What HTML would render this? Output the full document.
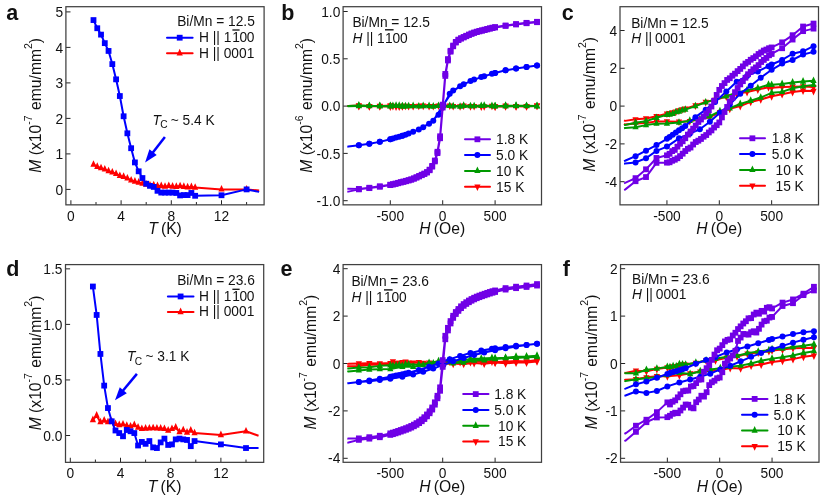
<!DOCTYPE html>
<html><head><meta charset="utf-8"><title>Magnetisation figure</title>
<style>
html,body{margin:0;padding:0;background:#fff;}
body{width:830px;height:501px;overflow:hidden;font-family:"Liberation Sans", sans-serif;}
svg{display:block;will-change:transform;filter:grayscale(0);}
svg text{font-family:"Liberation Sans", sans-serif;fill:#111;}
</style></head><body>
<svg width="830" height="501" viewBox="0 0 830 501">
<rect width="830" height="501" fill="#fff"/>
<path d="M70.9 204.85V200.25M121.1 204.85V200.25M171.3 204.85V200.25M221.5 204.85V200.25M96 204.85V202.05M146.2 204.85V202.05M196.4 204.85V202.05M246.6 204.85V202.05M65.9 189.4H70.5M65.9 153.9H70.5M65.9 118.4H70.5M65.9 82.9H70.5M65.9 47.4H70.5M65.9 11.9H70.5" stroke="#222" stroke-width="1" fill="none"/>
<rect x="65.9" y="6.7" width="198.2" height="198.15" fill="none" stroke="#404040" stroke-width="1.25"/>
<text x="70.9" y="220.95" font-size="13.75" text-anchor="middle">0</text>
<text x="121.1" y="220.95" font-size="13.75" text-anchor="middle">4</text>
<text x="171.3" y="220.95" font-size="13.75" text-anchor="middle">8</text>
<text x="221.5" y="220.95" font-size="13.75" text-anchor="middle">12</text>
<text x="63.1" y="194.5" font-size="13.75" text-anchor="end">0</text>
<text x="63.1" y="159" font-size="13.75" text-anchor="end">1</text>
<text x="63.1" y="123.5" font-size="13.75" text-anchor="end">2</text>
<text x="63.1" y="88" font-size="13.75" text-anchor="end">3</text>
<text x="63.1" y="52.5" font-size="13.75" text-anchor="end">4</text>
<text x="63.1" y="17" font-size="13.75" text-anchor="end">5</text>
<polyline points="93.49,164.6 97.26,166.72 101.02,168.09 104.79,169.4 108.55,171.16 112.32,172.36 116.08,173.78 119.85,175.88 123.61,176.69 127.38,178.4 131.14,180.35 134.91,181.46 138.67,182.51 142.44,183.62 146.2,184.5 149.97,185.32 153.73,185.22 157.5,185.81 161.26,185.95 165.03,186.64 168.79,185.91 172.56,186.52 176.32,186.73 180.09,186.1 183.85,186.75 187.62,187.21 191.38,186.97 195.15,187.56 221.5,189.4 246.6,189.4 259.15,190.47" fill="none" stroke="#ff0000" stroke-width="2" stroke-linejoin="round" stroke-linecap="butt"/>
<g><polygon points="93.49,160.2 90.39,166.8 96.59,166.8" fill="#ff0000"/><polygon points="97.26,162.32 94.16,168.92 100.36,168.92" fill="#ff0000"/><polygon points="101.02,163.69 97.92,170.29 104.12,170.29" fill="#ff0000"/><polygon points="104.79,165 101.69,171.6 107.89,171.6" fill="#ff0000"/><polygon points="108.55,166.76 105.45,173.36 111.65,173.36" fill="#ff0000"/><polygon points="112.32,167.96 109.22,174.56 115.42,174.56" fill="#ff0000"/><polygon points="116.08,169.38 112.98,175.98 119.18,175.98" fill="#ff0000"/><polygon points="119.85,171.48 116.75,178.08 122.95,178.08" fill="#ff0000"/><polygon points="123.61,172.29 120.51,178.89 126.71,178.89" fill="#ff0000"/><polygon points="127.38,174 124.28,180.6 130.47,180.6" fill="#ff0000"/><polygon points="131.14,175.95 128.04,182.55 134.24,182.55" fill="#ff0000"/><polygon points="134.91,177.06 131.81,183.66 138.01,183.66" fill="#ff0000"/><polygon points="138.67,178.11 135.57,184.71 141.77,184.71" fill="#ff0000"/><polygon points="142.44,179.22 139.34,185.82 145.53,185.82" fill="#ff0000"/><polygon points="146.2,180.1 143.1,186.7 149.3,186.7" fill="#ff0000"/><polygon points="149.97,180.92 146.87,187.52 153.07,187.52" fill="#ff0000"/><polygon points="153.73,180.82 150.63,187.42 156.83,187.42" fill="#ff0000"/><polygon points="157.5,181.41 154.4,188.01 160.59,188.01" fill="#ff0000"/><polygon points="161.26,181.55 158.16,188.15 164.36,188.15" fill="#ff0000"/><polygon points="165.03,182.24 161.93,188.84 168.13,188.84" fill="#ff0000"/><polygon points="168.79,181.51 165.69,188.11 171.89,188.11" fill="#ff0000"/><polygon points="172.56,182.12 169.46,188.72 175.66,188.72" fill="#ff0000"/><polygon points="176.32,182.33 173.22,188.93 179.42,188.93" fill="#ff0000"/><polygon points="180.09,181.7 176.99,188.3 183.19,188.3" fill="#ff0000"/><polygon points="183.85,182.35 180.75,188.95 186.95,188.95" fill="#ff0000"/><polygon points="187.62,182.81 184.52,189.41 190.72,189.41" fill="#ff0000"/><polygon points="191.38,182.57 188.28,189.17 194.48,189.17" fill="#ff0000"/><polygon points="195.15,183.16 192.05,189.76 198.25,189.76" fill="#ff0000"/><polygon points="221.5,185 218.4,191.6 224.6,191.6" fill="#ff0000"/><polygon points="246.6,185 243.5,191.6 249.7,191.6" fill="#ff0000"/></g>
<polyline points="93.49,20.07 97.26,28.23 101.02,34.62 104.79,43.14 108.55,50.95 112.32,64.09 116.08,79.35 119.85,96.04 123.61,116.27 127.38,133.31 131.14,148.22 134.91,162.42 138.67,171.3 142.44,178.04 146.2,183.72 149.97,185.85 153.73,186.91 157.5,190.82 161.26,192.59 165.03,192.59 168.79,192.59 172.56,192.59 176.32,192.95 180.09,195.44 183.85,195.08 187.62,195.08 191.38,192.95 195.15,195.79 221.5,195.26 246.6,189.4 259.15,191.89" fill="none" stroke="#0000ff" stroke-width="2" stroke-linejoin="round" stroke-linecap="butt"/>
<g><rect x="90.59" y="17.17" width="5.8" height="5.8" fill="#0000ff"/><rect x="94.36" y="25.33" width="5.8" height="5.8" fill="#0000ff"/><rect x="98.12" y="31.72" width="5.8" height="5.8" fill="#0000ff"/><rect x="101.89" y="40.24" width="5.8" height="5.8" fill="#0000ff"/><rect x="105.65" y="48.05" width="5.8" height="5.8" fill="#0000ff"/><rect x="109.42" y="61.19" width="5.8" height="5.8" fill="#0000ff"/><rect x="113.18" y="76.45" width="5.8" height="5.8" fill="#0000ff"/><rect x="116.95" y="93.14" width="5.8" height="5.8" fill="#0000ff"/><rect x="120.71" y="113.37" width="5.8" height="5.8" fill="#0000ff"/><rect x="124.47" y="130.41" width="5.8" height="5.8" fill="#0000ff"/><rect x="128.24" y="145.32" width="5.8" height="5.8" fill="#0000ff"/><rect x="132.01" y="159.52" width="5.8" height="5.8" fill="#0000ff"/><rect x="135.77" y="168.4" width="5.8" height="5.8" fill="#0000ff"/><rect x="139.53" y="175.14" width="5.8" height="5.8" fill="#0000ff"/><rect x="143.3" y="180.82" width="5.8" height="5.8" fill="#0000ff"/><rect x="147.07" y="182.95" width="5.8" height="5.8" fill="#0000ff"/><rect x="150.83" y="184.01" width="5.8" height="5.8" fill="#0000ff"/><rect x="154.59" y="187.92" width="5.8" height="5.8" fill="#0000ff"/><rect x="158.36" y="189.69" width="5.8" height="5.8" fill="#0000ff"/><rect x="162.13" y="189.69" width="5.8" height="5.8" fill="#0000ff"/><rect x="165.89" y="189.69" width="5.8" height="5.8" fill="#0000ff"/><rect x="169.66" y="189.69" width="5.8" height="5.8" fill="#0000ff"/><rect x="173.42" y="190.05" width="5.8" height="5.8" fill="#0000ff"/><rect x="177.19" y="192.53" width="5.8" height="5.8" fill="#0000ff"/><rect x="180.95" y="192.18" width="5.8" height="5.8" fill="#0000ff"/><rect x="184.72" y="192.18" width="5.8" height="5.8" fill="#0000ff"/><rect x="188.48" y="190.05" width="5.8" height="5.8" fill="#0000ff"/><rect x="192.25" y="192.89" width="5.8" height="5.8" fill="#0000ff"/><rect x="218.6" y="192.36" width="5.8" height="5.8" fill="#0000ff"/><rect x="243.7" y="186.5" width="5.8" height="5.8" fill="#0000ff"/></g>
<text x="6.2" y="19.8" font-size="21.5" text-anchor="start" font-weight="bold">a</text>
<text transform="translate(41.2,105.27) rotate(-90)" font-size="15.7" text-anchor="middle"><tspan font-style="italic">M</tspan> (x10<tspan font-size="10.5" dy="-9.2">-7</tspan><tspan dy="9.2" dx="1"> emu/mm</tspan><tspan font-size="10.5" dy="-9.2">2</tspan><tspan dy="9.2">)</tspan></text>
<text x="165" y="234.15" font-size="15.7" text-anchor="middle"><tspan font-style="italic">T</tspan><tspan dx="-1.2"> (K)</tspan></text>
<text x="254.8" y="26.4" font-size="13.75" text-anchor="end">Bi/Mn = 12.5</text>
<text x="199" y="42.1" font-size="13.75" text-anchor="start">H || 1<tspan dx="2">1</tspan><tspan dx="-0.5">0</tspan><tspan dx="-0.5">0</tspan></text>
<text x="199" y="57.6" font-size="13.75" text-anchor="start">H || 0001</text>
<line x1="232.4" y1="30" x2="239.6" y2="30" stroke="#111" stroke-width="1.3"/>
<line x1="167" y1="37.7" x2="192.6" y2="37.7" stroke="#0000ff" stroke-width="2" stroke-linecap="round"/>
<rect x="176.8" y="34.8" width="5.8" height="5.8" fill="#0000ff"/>
<line x1="167" y1="53.2" x2="192.6" y2="53.2" stroke="#ff0000" stroke-width="2" stroke-linecap="round"/>
<polygon points="179.7,48.8 176.6,55.4 182.8,55.4" fill="#ff0000"/>
<text x="152.5" y="124.7" font-size="13.75" text-anchor="start"><tspan font-style="italic">T</tspan><tspan font-size="10.2" dy="3.6" dx="-0.7">C</tspan><tspan dy="-3.6" dx="-0.6"> ~ 5.4 K</tspan></text>
<line x1="164.9" y1="136.9" x2="152.46" y2="152.92" stroke="#0000ff" stroke-width="2.5"/>
<polygon points="145.1,162.4 149.44,149.31 156.71,154.95" fill="#0000ff"/>
<path d="M70.3 462.35V457.75M120.5 462.35V457.75M170.7 462.35V457.75M220.9 462.35V457.75M95.4 462.35V459.55M145.6 462.35V459.55M195.8 462.35V459.55M246 462.35V459.55M65.5 435.5H70.1M65.5 379.95H70.1M65.5 324.4H70.1M65.5 268.85H70.1" stroke="#222" stroke-width="1" fill="none"/>
<rect x="65.5" y="264.6" width="198.2" height="197.75" fill="none" stroke="#404040" stroke-width="1.25"/>
<text x="70.3" y="478.45" font-size="13.75" text-anchor="middle">0</text>
<text x="120.5" y="478.45" font-size="13.75" text-anchor="middle">4</text>
<text x="170.7" y="478.45" font-size="13.75" text-anchor="middle">8</text>
<text x="220.9" y="478.45" font-size="13.75" text-anchor="middle">12</text>
<text x="62.4" y="440.6" font-size="13.75" text-anchor="end">0.0</text>
<text x="62.4" y="385.05" font-size="13.75" text-anchor="end">0.5</text>
<text x="62.4" y="329.5" font-size="13.75" text-anchor="end">1.0</text>
<text x="62.4" y="273.95" font-size="13.75" text-anchor="end">1.5</text>
<polyline points="92.89,419.95 96.66,415.5 100.42,422.17 104.19,420.5 107.95,422.17 111.72,421.28 115.48,423.83 119.25,424.95 123.01,424.39 126.78,425.72 130.54,426.28 134.31,424.95 138.07,427.5 141.84,428.83 145.6,428.5 149.37,428.39 153.13,428.17 156.9,428.39 160.66,428.5 164.43,428.83 168.19,430.5 171.96,428.83 175.72,427.5 179.49,432.06 183.25,430.06 187.02,432.5 190.78,430.5 194.55,433.06 220.9,434.94 246,431.28 258.55,435.72" fill="none" stroke="#ff0000" stroke-width="2" stroke-linejoin="round" stroke-linecap="butt"/>
<g><polygon points="92.89,415.55 89.79,422.15 95.99,422.15" fill="#ff0000"/><polygon points="96.66,411.1 93.56,417.7 99.75,417.7" fill="#ff0000"/><polygon points="100.42,417.77 97.32,424.37 103.52,424.37" fill="#ff0000"/><polygon points="104.19,416.1 101.09,422.7 107.28,422.7" fill="#ff0000"/><polygon points="107.95,417.77 104.85,424.37 111.05,424.37" fill="#ff0000"/><polygon points="111.72,416.88 108.62,423.48 114.81,423.48" fill="#ff0000"/><polygon points="115.48,419.43 112.38,426.03 118.58,426.03" fill="#ff0000"/><polygon points="119.25,420.55 116.15,427.15 122.34,427.15" fill="#ff0000"/><polygon points="123.01,419.99 119.91,426.59 126.11,426.59" fill="#ff0000"/><polygon points="126.78,421.32 123.68,427.92 129.88,427.92" fill="#ff0000"/><polygon points="130.54,421.88 127.44,428.48 133.64,428.48" fill="#ff0000"/><polygon points="134.31,420.55 131.21,427.15 137.41,427.15" fill="#ff0000"/><polygon points="138.07,423.1 134.97,429.7 141.17,429.7" fill="#ff0000"/><polygon points="141.84,424.43 138.74,431.03 144.94,431.03" fill="#ff0000"/><polygon points="145.6,424.1 142.5,430.7 148.7,430.7" fill="#ff0000"/><polygon points="149.37,423.99 146.27,430.59 152.47,430.59" fill="#ff0000"/><polygon points="153.13,423.77 150.03,430.37 156.23,430.37" fill="#ff0000"/><polygon points="156.9,423.99 153.8,430.59 160,430.59" fill="#ff0000"/><polygon points="160.66,424.1 157.56,430.7 163.76,430.7" fill="#ff0000"/><polygon points="164.43,424.43 161.33,431.03 167.53,431.03" fill="#ff0000"/><polygon points="168.19,426.1 165.09,432.7 171.29,432.7" fill="#ff0000"/><polygon points="171.96,424.43 168.86,431.03 175.06,431.03" fill="#ff0000"/><polygon points="175.72,423.1 172.62,429.7 178.82,429.7" fill="#ff0000"/><polygon points="179.49,427.66 176.39,434.26 182.59,434.26" fill="#ff0000"/><polygon points="183.25,425.66 180.15,432.26 186.35,432.26" fill="#ff0000"/><polygon points="187.02,428.1 183.92,434.7 190.12,434.7" fill="#ff0000"/><polygon points="190.78,426.1 187.68,432.7 193.88,432.7" fill="#ff0000"/><polygon points="194.55,428.66 191.45,435.26 197.65,435.26" fill="#ff0000"/><polygon points="220.9,430.54 217.8,437.14 224,437.14" fill="#ff0000"/><polygon points="246,426.88 242.9,433.48 249.1,433.48" fill="#ff0000"/></g>
<polyline points="92.89,286.51 96.66,314.96 100.42,353.95 104.19,385.62 107.95,408.06 111.72,421.28 115.48,430.5 119.25,433.06 123.01,436.28 126.78,429.94 130.54,431.28 134.31,433.06 138.07,445.5 141.84,441.94 145.6,443.83 149.37,441.06 153.13,447.39 156.9,448.05 160.66,442.39 164.43,438.61 168.19,444.94 171.96,444.39 175.72,439.39 179.49,438.61 183.25,439.39 187.02,439.94 190.78,446.17 194.55,441.06 220.9,444.39 246,448.05 258.55,448.05" fill="none" stroke="#0000ff" stroke-width="2" stroke-linejoin="round" stroke-linecap="butt"/>
<g><rect x="89.99" y="283.61" width="5.8" height="5.8" fill="#0000ff"/><rect x="93.75" y="312.06" width="5.8" height="5.8" fill="#0000ff"/><rect x="97.52" y="351.05" width="5.8" height="5.8" fill="#0000ff"/><rect x="101.28" y="382.72" width="5.8" height="5.8" fill="#0000ff"/><rect x="105.05" y="405.16" width="5.8" height="5.8" fill="#0000ff"/><rect x="108.81" y="418.38" width="5.8" height="5.8" fill="#0000ff"/><rect x="112.58" y="427.6" width="5.8" height="5.8" fill="#0000ff"/><rect x="116.34" y="430.16" width="5.8" height="5.8" fill="#0000ff"/><rect x="120.11" y="433.38" width="5.8" height="5.8" fill="#0000ff"/><rect x="123.88" y="427.05" width="5.8" height="5.8" fill="#0000ff"/><rect x="127.64" y="428.38" width="5.8" height="5.8" fill="#0000ff"/><rect x="131.41" y="430.16" width="5.8" height="5.8" fill="#0000ff"/><rect x="135.17" y="442.6" width="5.8" height="5.8" fill="#0000ff"/><rect x="138.94" y="439.04" width="5.8" height="5.8" fill="#0000ff"/><rect x="142.7" y="440.93" width="5.8" height="5.8" fill="#0000ff"/><rect x="146.47" y="438.16" width="5.8" height="5.8" fill="#0000ff"/><rect x="150.23" y="444.49" width="5.8" height="5.8" fill="#0000ff"/><rect x="154" y="445.15" width="5.8" height="5.8" fill="#0000ff"/><rect x="157.76" y="439.49" width="5.8" height="5.8" fill="#0000ff"/><rect x="161.53" y="435.71" width="5.8" height="5.8" fill="#0000ff"/><rect x="165.29" y="442.04" width="5.8" height="5.8" fill="#0000ff"/><rect x="169.06" y="441.49" width="5.8" height="5.8" fill="#0000ff"/><rect x="172.82" y="436.49" width="5.8" height="5.8" fill="#0000ff"/><rect x="176.59" y="435.71" width="5.8" height="5.8" fill="#0000ff"/><rect x="180.35" y="436.49" width="5.8" height="5.8" fill="#0000ff"/><rect x="184.12" y="437.04" width="5.8" height="5.8" fill="#0000ff"/><rect x="187.88" y="443.27" width="5.8" height="5.8" fill="#0000ff"/><rect x="191.65" y="438.16" width="5.8" height="5.8" fill="#0000ff"/><rect x="218" y="441.49" width="5.8" height="5.8" fill="#0000ff"/><rect x="243.1" y="445.15" width="5.8" height="5.8" fill="#0000ff"/></g>
<text x="6.2" y="275.7" font-size="21.5" text-anchor="start" font-weight="bold">d</text>
<text transform="translate(40.8,362.98) rotate(-90)" font-size="15.7" text-anchor="middle"><tspan font-style="italic">M</tspan> (x10<tspan font-size="10.5" dy="-9.2">-7</tspan><tspan dy="9.2" dx="1"> emu/mm</tspan><tspan font-size="10.5" dy="-9.2">2</tspan><tspan dy="9.2">)</tspan></text>
<text x="164.6" y="491.65" font-size="15.7" text-anchor="middle"><tspan font-style="italic">T</tspan><tspan dx="-1.2"> (K)</tspan></text>
<text x="254.8" y="284.9" font-size="13.75" text-anchor="end">Bi/Mn = 23.6</text>
<text x="199" y="300.7" font-size="13.75" text-anchor="start">H || 1<tspan dx="2">1</tspan><tspan dx="-0.5">0</tspan><tspan dx="-0.5">0</tspan></text>
<text x="199" y="315.5" font-size="13.75" text-anchor="start">H || 0001</text>
<line x1="232.4" y1="289.3" x2="239.6" y2="289.3" stroke="#111" stroke-width="1.3"/>
<line x1="167.9" y1="296.45" x2="193.5" y2="296.45" stroke="#0000ff" stroke-width="2" stroke-linecap="round"/>
<rect x="177.7" y="293.55" width="5.8" height="5.8" fill="#0000ff"/>
<line x1="167.9" y1="311.95" x2="193.5" y2="311.95" stroke="#ff0000" stroke-width="2" stroke-linecap="round"/>
<polygon points="180.6,307.55 177.5,314.15 183.7,314.15" fill="#ff0000"/>
<text x="127.1" y="361.2" font-size="13.75" text-anchor="start"><tspan font-style="italic">T</tspan><tspan font-size="10.2" dy="3.6" dx="-0.7">C</tspan><tspan dy="-3.6" dx="-0.6"> ~ 3.1 K</tspan></text>
<line x1="136.9" y1="373.9" x2="122.66" y2="391.06" stroke="#0000ff" stroke-width="2.5"/>
<polygon points="115,400.3 119.76,387.36 126.84,393.23" fill="#0000ff"/>
<path d="M390.3 204.85V200.25M442.7 204.85V200.25M495.1 204.85V200.25M343.1 200.7H347.7M343.1 153.4H347.7M343.1 106.1H347.7M343.1 58.8H347.7M343.1 11.5H347.7" stroke="#222" stroke-width="1" fill="none"/>
<rect x="343.1" y="6.7" width="198.4" height="198.15" fill="none" stroke="#404040" stroke-width="1.25"/>
<text x="390.3" y="220.95" font-size="13.75" text-anchor="middle">-500</text>
<text x="442.7" y="220.95" font-size="13.75" text-anchor="middle">0</text>
<text x="495.1" y="220.95" font-size="13.75" text-anchor="middle">500</text>
<text x="340.3" y="205.8" font-size="13.75" text-anchor="end">-1.0</text>
<text x="340.3" y="158.5" font-size="13.75" text-anchor="end">-0.5</text>
<text x="340.3" y="111.2" font-size="13.75" text-anchor="end">0.0</text>
<text x="340.3" y="63.9" font-size="13.75" text-anchor="end">0.5</text>
<text x="340.3" y="16.6" font-size="13.75" text-anchor="end">1.0</text>
<polyline points="347.33,106.1 348.38,106.07 358.86,106.03 369.34,106.14 379.82,106.19 390.3,106.51 402.35,105.96 413.15,106.13 423.21,105.76 433.27,106.2 443.33,106.64 453.18,106.13 463.66,105.62 474.14,106.21 484.2,106.35 495.1,106.44 505.58,106.4 516.06,106.19 526.54,106.43 537.02,105.67 537.02,105.8 526.54,106.22 516.06,106.31 505.58,105.8 495.1,106.57 491.96,105.95 481.27,106.69 470.47,106.29 460.1,106.44 449.72,105.69 438.51,105.6 429.08,106.19 418.81,105.86 408.64,106.15 405.5,105.94 402.35,106.31 399.21,106.58 396.06,106.61 392.92,105.99 390.3,105.46 379.82,106.02 369.34,106.25 358.86,105.56 348.38,106.03 347.33,106.1" fill="none" stroke="#ff0000" stroke-width="2" stroke-linejoin="round" stroke-linecap="butt"/>
<g><polygon points="358.86,110.43 355.76,103.83 361.96,103.83" fill="#ff0000"/><polygon points="369.34,110.54 366.24,103.94 372.44,103.94" fill="#ff0000"/><polygon points="379.82,110.59 376.72,103.99 382.92,103.99" fill="#ff0000"/><polygon points="390.3,110.91 387.2,104.31 393.4,104.31" fill="#ff0000"/><polygon points="402.35,110.36 399.25,103.76 405.45,103.76" fill="#ff0000"/><polygon points="413.15,110.53 410.05,103.93 416.25,103.93" fill="#ff0000"/><polygon points="423.21,110.16 420.11,103.56 426.31,103.56" fill="#ff0000"/><polygon points="433.27,110.6 430.17,104 436.37,104" fill="#ff0000"/><polygon points="443.33,111.04 440.23,104.44 446.43,104.44" fill="#ff0000"/><polygon points="453.18,110.53 450.08,103.93 456.28,103.93" fill="#ff0000"/><polygon points="463.66,110.02 460.56,103.42 466.76,103.42" fill="#ff0000"/><polygon points="474.14,110.61 471.04,104.01 477.24,104.01" fill="#ff0000"/><polygon points="484.2,110.75 481.1,104.15 487.3,104.15" fill="#ff0000"/><polygon points="495.1,110.84 492,104.24 498.2,104.24" fill="#ff0000"/><polygon points="505.58,110.8 502.48,104.2 508.68,104.2" fill="#ff0000"/><polygon points="516.06,110.59 512.96,103.99 519.16,103.99" fill="#ff0000"/><polygon points="526.54,110.83 523.44,104.23 529.64,104.23" fill="#ff0000"/><polygon points="537.02,110.07 533.92,103.47 540.12,103.47" fill="#ff0000"/><polygon points="537.02,110.2 533.92,103.6 540.12,103.6" fill="#ff0000"/><polygon points="526.54,110.62 523.44,104.02 529.64,104.02" fill="#ff0000"/><polygon points="516.06,110.71 512.96,104.11 519.16,104.11" fill="#ff0000"/><polygon points="505.58,110.2 502.48,103.6 508.68,103.6" fill="#ff0000"/><polygon points="495.1,110.97 492,104.37 498.2,104.37" fill="#ff0000"/><polygon points="491.96,110.35 488.86,103.75 495.06,103.75" fill="#ff0000"/><polygon points="481.27,111.09 478.17,104.49 484.37,104.49" fill="#ff0000"/><polygon points="470.47,110.69 467.37,104.09 473.57,104.09" fill="#ff0000"/><polygon points="460.1,110.84 457,104.24 463.2,104.24" fill="#ff0000"/><polygon points="449.72,110.09 446.62,103.49 452.82,103.49" fill="#ff0000"/><polygon points="438.51,110 435.41,103.4 441.61,103.4" fill="#ff0000"/><polygon points="429.08,110.59 425.98,103.99 432.18,103.99" fill="#ff0000"/><polygon points="418.81,110.26 415.71,103.66 421.91,103.66" fill="#ff0000"/><polygon points="408.64,110.55 405.54,103.95 411.74,103.95" fill="#ff0000"/><polygon points="405.5,110.34 402.4,103.74 408.6,103.74" fill="#ff0000"/><polygon points="402.35,110.71 399.25,104.11 405.45,104.11" fill="#ff0000"/><polygon points="399.21,110.98 396.11,104.38 402.31,104.38" fill="#ff0000"/><polygon points="396.06,111.01 392.96,104.41 399.16,104.41" fill="#ff0000"/><polygon points="392.92,110.39 389.82,103.79 396.02,103.79" fill="#ff0000"/><polygon points="390.3,109.86 387.2,103.26 393.4,103.26" fill="#ff0000"/><polygon points="379.82,110.42 376.72,103.82 382.92,103.82" fill="#ff0000"/><polygon points="369.34,110.65 366.24,104.05 372.44,104.05" fill="#ff0000"/><polygon points="358.86,109.96 355.76,103.36 361.96,103.36" fill="#ff0000"/></g>
<polyline points="347.33,106.1 348.38,106.12 358.86,105.46 369.34,105.85 379.82,106.2 390.3,106.23 402.35,106.35 413.15,105.99 423.21,105.99 433.27,106.51 443.33,105.96 453.18,106.26 463.66,105.7 474.14,106.06 484.2,105.61 495.1,106.23 505.58,106.18 516.06,106.01 526.54,105.8 537.02,105.94 537.02,106.18 526.54,106.07 516.06,105.69 505.58,105.67 495.1,106.16 491.96,106.01 481.27,105.89 470.47,106.15 460.1,106.6 449.72,105.91 438.51,105.85 429.08,105.98 418.81,106.36 408.64,106.16 405.5,106.27 402.35,106.19 399.21,105.73 396.06,105.67 392.92,105.91 390.3,105.94 379.82,105.91 369.34,106.1 358.86,106.12 348.38,106.29 347.33,106.1" fill="none" stroke="#009900" stroke-width="2" stroke-linejoin="round" stroke-linecap="butt"/>
<g><polygon points="358.86,101.06 355.76,107.66 361.96,107.66" fill="#009900"/><polygon points="369.34,101.45 366.24,108.05 372.44,108.05" fill="#009900"/><polygon points="379.82,101.8 376.72,108.4 382.92,108.4" fill="#009900"/><polygon points="390.3,101.83 387.2,108.43 393.4,108.43" fill="#009900"/><polygon points="402.35,101.95 399.25,108.55 405.45,108.55" fill="#009900"/><polygon points="413.15,101.59 410.05,108.19 416.25,108.19" fill="#009900"/><polygon points="423.21,101.59 420.11,108.19 426.31,108.19" fill="#009900"/><polygon points="433.27,102.11 430.17,108.71 436.37,108.71" fill="#009900"/><polygon points="443.33,101.56 440.23,108.16 446.43,108.16" fill="#009900"/><polygon points="453.18,101.86 450.08,108.46 456.28,108.46" fill="#009900"/><polygon points="463.66,101.3 460.56,107.9 466.76,107.9" fill="#009900"/><polygon points="474.14,101.66 471.04,108.26 477.24,108.26" fill="#009900"/><polygon points="484.2,101.21 481.1,107.81 487.3,107.81" fill="#009900"/><polygon points="495.1,101.83 492,108.43 498.2,108.43" fill="#009900"/><polygon points="505.58,101.78 502.48,108.38 508.68,108.38" fill="#009900"/><polygon points="516.06,101.61 512.96,108.21 519.16,108.21" fill="#009900"/><polygon points="526.54,101.4 523.44,108 529.64,108" fill="#009900"/><polygon points="537.02,101.54 533.92,108.14 540.12,108.14" fill="#009900"/><polygon points="537.02,101.78 533.92,108.38 540.12,108.38" fill="#009900"/><polygon points="526.54,101.67 523.44,108.27 529.64,108.27" fill="#009900"/><polygon points="516.06,101.29 512.96,107.89 519.16,107.89" fill="#009900"/><polygon points="505.58,101.27 502.48,107.87 508.68,107.87" fill="#009900"/><polygon points="495.1,101.76 492,108.36 498.2,108.36" fill="#009900"/><polygon points="491.96,101.61 488.86,108.21 495.06,108.21" fill="#009900"/><polygon points="481.27,101.49 478.17,108.09 484.37,108.09" fill="#009900"/><polygon points="470.47,101.75 467.37,108.35 473.57,108.35" fill="#009900"/><polygon points="460.1,102.2 457,108.8 463.2,108.8" fill="#009900"/><polygon points="449.72,101.51 446.62,108.11 452.82,108.11" fill="#009900"/><polygon points="438.51,101.45 435.41,108.05 441.61,108.05" fill="#009900"/><polygon points="429.08,101.58 425.98,108.18 432.18,108.18" fill="#009900"/><polygon points="418.81,101.96 415.71,108.56 421.91,108.56" fill="#009900"/><polygon points="408.64,101.76 405.54,108.36 411.74,108.36" fill="#009900"/><polygon points="405.5,101.87 402.4,108.47 408.6,108.47" fill="#009900"/><polygon points="402.35,101.79 399.25,108.39 405.45,108.39" fill="#009900"/><polygon points="399.21,101.33 396.11,107.93 402.31,107.93" fill="#009900"/><polygon points="396.06,101.27 392.96,107.87 399.16,107.87" fill="#009900"/><polygon points="392.92,101.51 389.82,108.11 396.02,108.11" fill="#009900"/><polygon points="390.3,101.54 387.2,108.14 393.4,108.14" fill="#009900"/><polygon points="379.82,101.51 376.72,108.11 382.92,108.11" fill="#009900"/><polygon points="369.34,101.7 366.24,108.3 372.44,108.3" fill="#009900"/><polygon points="358.86,101.72 355.76,108.32 361.96,108.32" fill="#009900"/></g>
<polyline points="347.33,146.71 348.38,146.59 358.86,145.17 369.34,143.75 379.82,141.86 390.3,139.21 402.35,135.68 413.15,131.84 423.21,127.25 433.27,120.87 443.33,104.83 453.18,90.49 463.66,84.15 474.14,79.61 484.2,76.15 495.1,72.99 505.58,70.34 516.06,68.45 526.54,67.03 537.02,65.61 537.02,65.61 526.54,67.03 516.06,68.45 505.58,70.34 495.1,72.99 491.96,73.85 481.27,77.09 470.47,81.12 460.1,86.22 449.72,93.69 438.51,114.68 429.08,123.64 418.81,129.4 408.64,133.56 405.5,134.65 402.35,135.68 399.21,136.67 396.06,137.6 392.92,138.49 390.3,139.21 379.82,141.86 369.34,143.75 358.86,145.17 348.38,146.59 347.33,146.71" fill="none" stroke="#0000ff" stroke-width="2" stroke-linejoin="round" stroke-linecap="butt"/>
<g><circle cx="358.86" cy="145.17" r="3" fill="#0000ff"/><circle cx="369.34" cy="143.75" r="3" fill="#0000ff"/><circle cx="379.82" cy="141.86" r="3" fill="#0000ff"/><circle cx="390.3" cy="139.21" r="3" fill="#0000ff"/><circle cx="402.35" cy="135.68" r="3" fill="#0000ff"/><circle cx="413.15" cy="131.84" r="3" fill="#0000ff"/><circle cx="423.21" cy="127.25" r="3" fill="#0000ff"/><circle cx="433.27" cy="120.87" r="3" fill="#0000ff"/><circle cx="443.33" cy="104.83" r="3" fill="#0000ff"/><circle cx="453.18" cy="90.49" r="3" fill="#0000ff"/><circle cx="463.66" cy="84.15" r="3" fill="#0000ff"/><circle cx="474.14" cy="79.61" r="3" fill="#0000ff"/><circle cx="484.2" cy="76.15" r="3" fill="#0000ff"/><circle cx="495.1" cy="72.99" r="3" fill="#0000ff"/><circle cx="505.58" cy="70.34" r="3" fill="#0000ff"/><circle cx="516.06" cy="68.45" r="3" fill="#0000ff"/><circle cx="526.54" cy="67.03" r="3" fill="#0000ff"/><circle cx="537.02" cy="65.61" r="3" fill="#0000ff"/><circle cx="537.02" cy="65.61" r="3" fill="#0000ff"/><circle cx="526.54" cy="67.03" r="3" fill="#0000ff"/><circle cx="516.06" cy="68.45" r="3" fill="#0000ff"/><circle cx="505.58" cy="70.34" r="3" fill="#0000ff"/><circle cx="495.1" cy="72.99" r="3" fill="#0000ff"/><circle cx="491.96" cy="73.85" r="3" fill="#0000ff"/><circle cx="481.27" cy="77.09" r="3" fill="#0000ff"/><circle cx="470.47" cy="81.12" r="3" fill="#0000ff"/><circle cx="460.1" cy="86.22" r="3" fill="#0000ff"/><circle cx="449.72" cy="93.69" r="3" fill="#0000ff"/><circle cx="438.51" cy="114.68" r="3" fill="#0000ff"/><circle cx="429.08" cy="123.64" r="3" fill="#0000ff"/><circle cx="418.81" cy="129.4" r="3" fill="#0000ff"/><circle cx="408.64" cy="133.56" r="3" fill="#0000ff"/><circle cx="405.5" cy="134.65" r="3" fill="#0000ff"/><circle cx="402.35" cy="135.68" r="3" fill="#0000ff"/><circle cx="399.21" cy="136.67" r="3" fill="#0000ff"/><circle cx="396.06" cy="137.6" r="3" fill="#0000ff"/><circle cx="392.92" cy="138.49" r="3" fill="#0000ff"/><circle cx="390.3" cy="139.21" r="3" fill="#0000ff"/><circle cx="379.82" cy="141.86" r="3" fill="#0000ff"/><circle cx="369.34" cy="143.75" r="3" fill="#0000ff"/><circle cx="358.86" cy="145.17" r="3" fill="#0000ff"/></g>
<polyline points="347.33,191.77 348.38,191.63 358.86,189.36 369.34,188.13 379.82,186.71 390.3,185.11 392.92,184.56 395.54,183.93 398.16,183.25 400.78,182.56 403.4,181.91 406.02,181.25 408.64,180.54 411.26,179.73 413.88,178.77 416.5,177.66 419.12,176.45 421.74,175.21 424.36,174.01 426.98,172.58 429.6,170.26 432.22,166.63 434.84,161.42 437.46,153.11 440.08,138.26 442.7,107.55 445.32,75.92 447.94,60.45 450.56,51.68 453.18,46.3 455.8,42.55 458.42,40.14 461.04,38.66 463.66,37.47 466.28,36.23 468.9,35.02 471.52,33.89 474.14,32.91 476.76,32.1 479.38,31.39 482,30.73 484.62,30.07 487.24,29.38 489.86,28.7 492.48,28.06 495.1,27.51 505.58,25.89 516.06,24.47 526.54,23.24 537.02,22.2 537.02,21.8 526.54,22.84 516.06,24.07 505.58,25.49 495.1,27.09 492.48,27.64 489.86,28.27 487.24,28.95 484.62,29.64 482,30.29 479.38,30.95 476.76,31.66 474.14,32.47 471.52,33.43 468.9,34.54 466.28,35.75 463.66,36.99 461.04,38.19 458.42,39.62 455.8,41.94 453.18,45.57 450.56,50.78 447.94,59.09 445.32,73.94 442.7,104.65 440.08,136.28 437.46,151.75 434.84,160.52 432.22,165.9 429.6,169.65 426.98,172.06 424.36,173.54 421.74,174.73 419.12,175.97 416.5,177.18 413.88,178.31 411.26,179.29 408.64,180.1 406.02,180.81 403.4,181.47 400.78,182.13 398.16,182.82 395.54,183.5 392.92,184.14 390.3,184.69 379.82,186.31 369.34,187.73 358.86,188.97 348.38,188.78 347.33,188.79" fill="none" stroke="#7000e6" stroke-width="2" stroke-linejoin="round" stroke-linecap="butt"/>
<g><rect x="355.96" y="186.46" width="5.8" height="5.8" fill="#7000e6"/><rect x="366.44" y="185.23" width="5.8" height="5.8" fill="#7000e6"/><rect x="376.92" y="183.81" width="5.8" height="5.8" fill="#7000e6"/><rect x="387.4" y="182.21" width="5.8" height="5.8" fill="#7000e6"/><rect x="390.02" y="181.66" width="5.8" height="5.8" fill="#7000e6"/><rect x="392.64" y="181.03" width="5.8" height="5.8" fill="#7000e6"/><rect x="395.26" y="180.35" width="5.8" height="5.8" fill="#7000e6"/><rect x="397.88" y="179.66" width="5.8" height="5.8" fill="#7000e6"/><rect x="400.5" y="179.01" width="5.8" height="5.8" fill="#7000e6"/><rect x="403.12" y="178.35" width="5.8" height="5.8" fill="#7000e6"/><rect x="405.74" y="177.64" width="5.8" height="5.8" fill="#7000e6"/><rect x="408.36" y="176.83" width="5.8" height="5.8" fill="#7000e6"/><rect x="410.98" y="175.87" width="5.8" height="5.8" fill="#7000e6"/><rect x="413.6" y="174.76" width="5.8" height="5.8" fill="#7000e6"/><rect x="416.22" y="173.55" width="5.8" height="5.8" fill="#7000e6"/><rect x="418.84" y="172.31" width="5.8" height="5.8" fill="#7000e6"/><rect x="421.46" y="171.11" width="5.8" height="5.8" fill="#7000e6"/><rect x="424.08" y="169.68" width="5.8" height="5.8" fill="#7000e6"/><rect x="426.7" y="167.36" width="5.8" height="5.8" fill="#7000e6"/><rect x="429.32" y="163.73" width="5.8" height="5.8" fill="#7000e6"/><rect x="431.94" y="158.52" width="5.8" height="5.8" fill="#7000e6"/><rect x="434.56" y="150.21" width="5.8" height="5.8" fill="#7000e6"/><rect x="437.18" y="135.36" width="5.8" height="5.8" fill="#7000e6"/><rect x="439.8" y="104.65" width="5.8" height="5.8" fill="#7000e6"/><rect x="442.42" y="73.02" width="5.8" height="5.8" fill="#7000e6"/><rect x="445.04" y="57.55" width="5.8" height="5.8" fill="#7000e6"/><rect x="447.66" y="48.78" width="5.8" height="5.8" fill="#7000e6"/><rect x="450.28" y="43.4" width="5.8" height="5.8" fill="#7000e6"/><rect x="452.9" y="39.65" width="5.8" height="5.8" fill="#7000e6"/><rect x="455.52" y="37.24" width="5.8" height="5.8" fill="#7000e6"/><rect x="458.14" y="35.76" width="5.8" height="5.8" fill="#7000e6"/><rect x="460.76" y="34.57" width="5.8" height="5.8" fill="#7000e6"/><rect x="463.38" y="33.33" width="5.8" height="5.8" fill="#7000e6"/><rect x="466" y="32.12" width="5.8" height="5.8" fill="#7000e6"/><rect x="468.62" y="30.99" width="5.8" height="5.8" fill="#7000e6"/><rect x="471.24" y="30.01" width="5.8" height="5.8" fill="#7000e6"/><rect x="473.86" y="29.2" width="5.8" height="5.8" fill="#7000e6"/><rect x="476.48" y="28.49" width="5.8" height="5.8" fill="#7000e6"/><rect x="479.1" y="27.83" width="5.8" height="5.8" fill="#7000e6"/><rect x="481.72" y="27.17" width="5.8" height="5.8" fill="#7000e6"/><rect x="484.34" y="26.48" width="5.8" height="5.8" fill="#7000e6"/><rect x="486.96" y="25.8" width="5.8" height="5.8" fill="#7000e6"/><rect x="489.58" y="25.16" width="5.8" height="5.8" fill="#7000e6"/><rect x="492.2" y="24.61" width="5.8" height="5.8" fill="#7000e6"/><rect x="502.68" y="22.99" width="5.8" height="5.8" fill="#7000e6"/><rect x="513.16" y="21.57" width="5.8" height="5.8" fill="#7000e6"/><rect x="523.64" y="20.34" width="5.8" height="5.8" fill="#7000e6"/><rect x="534.12" y="19.3" width="5.8" height="5.8" fill="#7000e6"/><rect x="534.12" y="18.9" width="5.8" height="5.8" fill="#7000e6"/><rect x="523.64" y="19.94" width="5.8" height="5.8" fill="#7000e6"/><rect x="513.16" y="21.17" width="5.8" height="5.8" fill="#7000e6"/><rect x="502.68" y="22.59" width="5.8" height="5.8" fill="#7000e6"/><rect x="492.2" y="24.19" width="5.8" height="5.8" fill="#7000e6"/><rect x="489.58" y="24.74" width="5.8" height="5.8" fill="#7000e6"/><rect x="486.96" y="25.37" width="5.8" height="5.8" fill="#7000e6"/><rect x="484.34" y="26.05" width="5.8" height="5.8" fill="#7000e6"/><rect x="481.72" y="26.74" width="5.8" height="5.8" fill="#7000e6"/><rect x="479.1" y="27.39" width="5.8" height="5.8" fill="#7000e6"/><rect x="476.48" y="28.05" width="5.8" height="5.8" fill="#7000e6"/><rect x="473.86" y="28.76" width="5.8" height="5.8" fill="#7000e6"/><rect x="471.24" y="29.57" width="5.8" height="5.8" fill="#7000e6"/><rect x="468.62" y="30.53" width="5.8" height="5.8" fill="#7000e6"/><rect x="466" y="31.64" width="5.8" height="5.8" fill="#7000e6"/><rect x="463.38" y="32.85" width="5.8" height="5.8" fill="#7000e6"/><rect x="460.76" y="34.09" width="5.8" height="5.8" fill="#7000e6"/><rect x="458.14" y="35.29" width="5.8" height="5.8" fill="#7000e6"/><rect x="455.52" y="36.72" width="5.8" height="5.8" fill="#7000e6"/><rect x="452.9" y="39.04" width="5.8" height="5.8" fill="#7000e6"/><rect x="450.28" y="42.67" width="5.8" height="5.8" fill="#7000e6"/><rect x="447.66" y="47.88" width="5.8" height="5.8" fill="#7000e6"/><rect x="445.04" y="56.19" width="5.8" height="5.8" fill="#7000e6"/><rect x="442.42" y="71.04" width="5.8" height="5.8" fill="#7000e6"/><rect x="439.8" y="101.75" width="5.8" height="5.8" fill="#7000e6"/><rect x="437.18" y="133.38" width="5.8" height="5.8" fill="#7000e6"/><rect x="434.56" y="148.85" width="5.8" height="5.8" fill="#7000e6"/><rect x="431.94" y="157.62" width="5.8" height="5.8" fill="#7000e6"/><rect x="429.32" y="163" width="5.8" height="5.8" fill="#7000e6"/><rect x="426.7" y="166.75" width="5.8" height="5.8" fill="#7000e6"/><rect x="424.08" y="169.16" width="5.8" height="5.8" fill="#7000e6"/><rect x="421.46" y="170.64" width="5.8" height="5.8" fill="#7000e6"/><rect x="418.84" y="171.83" width="5.8" height="5.8" fill="#7000e6"/><rect x="416.22" y="173.07" width="5.8" height="5.8" fill="#7000e6"/><rect x="413.6" y="174.28" width="5.8" height="5.8" fill="#7000e6"/><rect x="410.98" y="175.41" width="5.8" height="5.8" fill="#7000e6"/><rect x="408.36" y="176.39" width="5.8" height="5.8" fill="#7000e6"/><rect x="405.74" y="177.2" width="5.8" height="5.8" fill="#7000e6"/><rect x="403.12" y="177.91" width="5.8" height="5.8" fill="#7000e6"/><rect x="400.5" y="178.57" width="5.8" height="5.8" fill="#7000e6"/><rect x="397.88" y="179.23" width="5.8" height="5.8" fill="#7000e6"/><rect x="395.26" y="179.92" width="5.8" height="5.8" fill="#7000e6"/><rect x="392.64" y="180.6" width="5.8" height="5.8" fill="#7000e6"/><rect x="390.02" y="181.24" width="5.8" height="5.8" fill="#7000e6"/><rect x="387.4" y="181.79" width="5.8" height="5.8" fill="#7000e6"/><rect x="376.92" y="183.41" width="5.8" height="5.8" fill="#7000e6"/><rect x="366.44" y="184.83" width="5.8" height="5.8" fill="#7000e6"/><rect x="355.96" y="186.07" width="5.8" height="5.8" fill="#7000e6"/></g>
<text x="281.3" y="20.2" font-size="21.5" text-anchor="start" font-weight="bold">b</text>
<text transform="translate(312.4,105.27) rotate(-90)" font-size="15.7" text-anchor="middle"><tspan font-style="italic">M</tspan> (x10<tspan font-size="10.5" dy="-9.2">-6</tspan><tspan dy="9.2" dx="1"> emu/mm</tspan><tspan font-size="10.5" dy="-9.2">2</tspan><tspan dy="9.2">)</tspan></text>
<text x="442.3" y="234.15" font-size="15.7" text-anchor="middle"><tspan font-style="italic">H</tspan><tspan dx="-1.2"> (Oe)</tspan></text>
<text x="352.4" y="27.2" font-size="13.75" text-anchor="start">Bi/Mn = 12.5</text>
<text x="352.4" y="42.5" font-size="13.75" text-anchor="start"><tspan font-style="italic">H</tspan> || 1<tspan dx="1.2">1</tspan><tspan dx="-0.2">0</tspan>0</text>
<line x1="385" y1="29.8" x2="393.6" y2="29.8" stroke="#111" stroke-width="1.4"/>
<line x1="465" y1="139.3" x2="490" y2="139.3" stroke="#7000e6" stroke-width="2" stroke-linecap="round"/>
<rect x="474.5" y="136.4" width="5.8" height="5.8" fill="#7000e6"/>
<text x="496.1" y="144.1" font-size="13.75" text-anchor="start">1.8 K</text>
<line x1="465" y1="155.1" x2="490" y2="155.1" stroke="#0000ff" stroke-width="2" stroke-linecap="round"/>
<circle cx="477.4" cy="155.1" r="3" fill="#0000ff"/>
<text x="496.1" y="159.9" font-size="13.75" text-anchor="start">5.0 K</text>
<line x1="465" y1="170.9" x2="490" y2="170.9" stroke="#009900" stroke-width="2" stroke-linecap="round"/>
<polygon points="477.4,166.5 474.3,173.1 480.5,173.1" fill="#009900"/>
<text x="496.1" y="175.7" font-size="13.75" text-anchor="start">10 K</text>
<line x1="465" y1="186.7" x2="490" y2="186.7" stroke="#ff0000" stroke-width="2" stroke-linecap="round"/>
<polygon points="477.4,191.1 474.3,184.5 480.5,184.5" fill="#ff0000"/>
<text x="496.1" y="191.5" font-size="13.75" text-anchor="start">15 K</text>
<path d="M666.95 204.85V200.25M719.3 204.85V200.25M771.65 204.85V200.25M620 181.7H624.6M620 143.9H624.6M620 106.1H624.6M620 68.3H624.6M620 30.5H624.6" stroke="#222" stroke-width="1" fill="none"/>
<rect x="620" y="6.7" width="198.5" height="198.15" fill="none" stroke="#404040" stroke-width="1.25"/>
<text x="666.95" y="220.95" font-size="13.75" text-anchor="middle">-500</text>
<text x="719.3" y="220.95" font-size="13.75" text-anchor="middle">0</text>
<text x="771.65" y="220.95" font-size="13.75" text-anchor="middle">500</text>
<text x="617.2" y="186.8" font-size="13.75" text-anchor="end">-4</text>
<text x="617.2" y="149" font-size="13.75" text-anchor="end">-2</text>
<text x="617.2" y="111.2" font-size="13.75" text-anchor="end">0</text>
<text x="617.2" y="73.4" font-size="13.75" text-anchor="end">2</text>
<text x="617.2" y="35.6" font-size="13.75" text-anchor="end">4</text>
<polyline points="624.02,123.86 625.07,124.6 635.54,123.58 646.01,123.03 656.48,121.38 666.95,121.46 678.99,121.69 689.77,121.15 699.83,119.35 709.88,117.21 719.93,112.22 729.77,108.85 740.24,106.06 750.71,101.94 760.76,99.46 771.65,96.3 782.12,94.15 792.59,92.05 803.06,90.67 813.53,91 813.53,87.1 803.06,86.52 792.59,86.78 782.12,87.01 771.65,87.78 768.51,87.19 757.83,89.54 747.05,91.98 736.68,93.86 726.31,96.57 715.11,100.07 705.69,102.03 695.43,105.55 685.27,108.64 682.13,109.36 678.99,110.53 675.85,111.73 672.71,112.45 669.57,113.29 666.95,113.62 656.48,116.31 646.01,118.54 635.54,119.34 625.07,120.87 624.02,120.44" fill="none" stroke="#ff0000" stroke-width="2" stroke-linejoin="round" stroke-linecap="butt"/>
<g><polygon points="635.54,127.98 632.44,121.38 638.64,121.38" fill="#ff0000"/><polygon points="646.01,127.43 642.91,120.83 649.11,120.83" fill="#ff0000"/><polygon points="656.48,125.78 653.38,119.18 659.58,119.18" fill="#ff0000"/><polygon points="666.95,125.86 663.85,119.26 670.05,119.26" fill="#ff0000"/><polygon points="678.99,126.09 675.89,119.49 682.09,119.49" fill="#ff0000"/><polygon points="689.77,125.55 686.67,118.95 692.87,118.95" fill="#ff0000"/><polygon points="699.83,123.75 696.73,117.15 702.93,117.15" fill="#ff0000"/><polygon points="709.88,121.61 706.78,115.01 712.98,115.01" fill="#ff0000"/><polygon points="719.93,116.62 716.83,110.02 723.03,110.02" fill="#ff0000"/><polygon points="729.77,113.25 726.67,106.65 732.87,106.65" fill="#ff0000"/><polygon points="740.24,110.46 737.14,103.86 743.34,103.86" fill="#ff0000"/><polygon points="750.71,106.34 747.61,99.74 753.81,99.74" fill="#ff0000"/><polygon points="760.76,103.86 757.66,97.26 763.86,97.26" fill="#ff0000"/><polygon points="771.65,100.7 768.55,94.1 774.75,94.1" fill="#ff0000"/><polygon points="782.12,98.55 779.02,91.95 785.22,91.95" fill="#ff0000"/><polygon points="792.59,96.45 789.49,89.85 795.69,89.85" fill="#ff0000"/><polygon points="803.06,95.07 799.96,88.47 806.16,88.47" fill="#ff0000"/><polygon points="813.53,95.4 810.43,88.8 816.63,88.8" fill="#ff0000"/><polygon points="813.53,91.5 810.43,84.9 816.63,84.9" fill="#ff0000"/><polygon points="803.06,90.92 799.96,84.32 806.16,84.32" fill="#ff0000"/><polygon points="792.59,91.18 789.49,84.58 795.69,84.58" fill="#ff0000"/><polygon points="782.12,91.41 779.02,84.81 785.22,84.81" fill="#ff0000"/><polygon points="771.65,92.18 768.55,85.58 774.75,85.58" fill="#ff0000"/><polygon points="768.51,91.59 765.41,84.99 771.61,84.99" fill="#ff0000"/><polygon points="757.83,93.94 754.73,87.34 760.93,87.34" fill="#ff0000"/><polygon points="747.05,96.38 743.95,89.78 750.15,89.78" fill="#ff0000"/><polygon points="736.68,98.26 733.58,91.66 739.78,91.66" fill="#ff0000"/><polygon points="726.31,100.97 723.21,94.37 729.41,94.37" fill="#ff0000"/><polygon points="715.11,104.47 712.01,97.87 718.21,97.87" fill="#ff0000"/><polygon points="705.69,106.43 702.59,99.83 708.79,99.83" fill="#ff0000"/><polygon points="695.43,109.95 692.33,103.35 698.53,103.35" fill="#ff0000"/><polygon points="685.27,113.04 682.17,106.44 688.37,106.44" fill="#ff0000"/><polygon points="682.13,113.76 679.03,107.16 685.23,107.16" fill="#ff0000"/><polygon points="678.99,114.93 675.89,108.33 682.09,108.33" fill="#ff0000"/><polygon points="675.85,116.13 672.75,109.53 678.95,109.53" fill="#ff0000"/><polygon points="672.71,116.85 669.61,110.25 675.81,110.25" fill="#ff0000"/><polygon points="669.57,117.69 666.47,111.09 672.67,111.09" fill="#ff0000"/><polygon points="666.95,118.02 663.85,111.42 670.05,111.42" fill="#ff0000"/><polygon points="656.48,120.71 653.38,114.11 659.58,114.11" fill="#ff0000"/><polygon points="646.01,122.94 642.91,116.34 649.11,116.34" fill="#ff0000"/><polygon points="635.54,123.74 632.44,117.14 638.64,117.14" fill="#ff0000"/></g>
<polyline points="624.02,128.28 625.07,128.07 635.54,127.15 646.01,125.11 656.48,123.63 666.95,123.43 678.99,122.57 689.77,120.68 699.83,119.15 709.88,116.26 719.93,111.22 729.77,108.27 740.24,103.99 750.71,100.74 760.76,97.56 771.65,92.85 782.12,91.89 792.59,88.28 803.06,86.28 813.53,84.88 813.53,80.87 803.06,81.45 792.59,82.48 782.12,83.96 771.65,84.78 768.51,84.73 757.83,88.11 747.05,90.14 736.68,92.72 726.31,96.21 715.11,99.33 705.69,102.42 695.43,106.1 685.27,109.58 682.13,110.3 678.99,111.48 675.85,112.1 672.71,113.81 669.57,114.45 666.95,114.81 656.48,117.8 646.01,121.15 635.54,122.67 625.07,124.9 624.02,124.87" fill="none" stroke="#009900" stroke-width="2" stroke-linejoin="round" stroke-linecap="butt"/>
<g><polygon points="635.54,122.75 632.44,129.35 638.64,129.35" fill="#009900"/><polygon points="646.01,120.71 642.91,127.31 649.11,127.31" fill="#009900"/><polygon points="656.48,119.23 653.38,125.83 659.58,125.83" fill="#009900"/><polygon points="666.95,119.03 663.85,125.63 670.05,125.63" fill="#009900"/><polygon points="678.99,118.17 675.89,124.77 682.09,124.77" fill="#009900"/><polygon points="689.77,116.28 686.67,122.88 692.87,122.88" fill="#009900"/><polygon points="699.83,114.75 696.73,121.35 702.93,121.35" fill="#009900"/><polygon points="709.88,111.86 706.78,118.46 712.98,118.46" fill="#009900"/><polygon points="719.93,106.82 716.83,113.42 723.03,113.42" fill="#009900"/><polygon points="729.77,103.87 726.67,110.47 732.87,110.47" fill="#009900"/><polygon points="740.24,99.59 737.14,106.19 743.34,106.19" fill="#009900"/><polygon points="750.71,96.34 747.61,102.94 753.81,102.94" fill="#009900"/><polygon points="760.76,93.16 757.66,99.76 763.86,99.76" fill="#009900"/><polygon points="771.65,88.45 768.55,95.05 774.75,95.05" fill="#009900"/><polygon points="782.12,87.49 779.02,94.09 785.22,94.09" fill="#009900"/><polygon points="792.59,83.88 789.49,90.48 795.69,90.48" fill="#009900"/><polygon points="803.06,81.88 799.96,88.48 806.16,88.48" fill="#009900"/><polygon points="813.53,80.48 810.43,87.08 816.63,87.08" fill="#009900"/><polygon points="813.53,76.47 810.43,83.07 816.63,83.07" fill="#009900"/><polygon points="803.06,77.05 799.96,83.65 806.16,83.65" fill="#009900"/><polygon points="792.59,78.08 789.49,84.68 795.69,84.68" fill="#009900"/><polygon points="782.12,79.56 779.02,86.16 785.22,86.16" fill="#009900"/><polygon points="771.65,80.38 768.55,86.98 774.75,86.98" fill="#009900"/><polygon points="768.51,80.33 765.41,86.93 771.61,86.93" fill="#009900"/><polygon points="757.83,83.71 754.73,90.31 760.93,90.31" fill="#009900"/><polygon points="747.05,85.74 743.95,92.34 750.15,92.34" fill="#009900"/><polygon points="736.68,88.32 733.58,94.92 739.78,94.92" fill="#009900"/><polygon points="726.31,91.81 723.21,98.41 729.41,98.41" fill="#009900"/><polygon points="715.11,94.93 712.01,101.53 718.21,101.53" fill="#009900"/><polygon points="705.69,98.02 702.59,104.62 708.79,104.62" fill="#009900"/><polygon points="695.43,101.7 692.33,108.3 698.53,108.3" fill="#009900"/><polygon points="685.27,105.18 682.17,111.78 688.37,111.78" fill="#009900"/><polygon points="682.13,105.9 679.03,112.5 685.23,112.5" fill="#009900"/><polygon points="678.99,107.08 675.89,113.68 682.09,113.68" fill="#009900"/><polygon points="675.85,107.7 672.75,114.3 678.95,114.3" fill="#009900"/><polygon points="672.71,109.41 669.61,116.01 675.81,116.01" fill="#009900"/><polygon points="669.57,110.05 666.47,116.65 672.67,116.65" fill="#009900"/><polygon points="666.95,110.41 663.85,117.01 670.05,117.01" fill="#009900"/><polygon points="656.48,113.4 653.38,120 659.58,120" fill="#009900"/><polygon points="646.01,116.75 642.91,123.35 649.11,123.35" fill="#009900"/><polygon points="635.54,118.27 632.44,124.87 638.64,124.87" fill="#009900"/></g>
<polyline points="624.02,163.67 625.07,163.56 635.54,162.42 646.01,158.26 656.48,150.89 666.95,146.55 678.99,138.35 689.77,133.68 699.83,129.27 709.88,121.69 719.93,112.75 729.77,104.59 740.24,93.63 750.71,85.69 760.76,77.69 771.65,69.81 782.12,63.57 792.59,59.98 803.06,54.5 813.53,51.86 813.53,46.19 803.06,51.29 792.59,53.75 782.12,59.98 771.65,64.52 768.51,66.13 757.83,71.45 747.05,75.91 736.68,81.86 726.31,91.39 715.11,102.03 705.69,109.65 695.43,117.13 685.27,126.03 682.13,128.21 678.99,130.34 675.85,132.54 672.71,134.81 669.57,137.04 666.95,138.8 656.48,145.03 646.01,150.7 635.54,156.19 625.07,160.72 624.02,161.14" fill="none" stroke="#0000ff" stroke-width="2" stroke-linejoin="round" stroke-linecap="butt"/>
<g><circle cx="635.54" cy="162.42" r="3" fill="#0000ff"/><circle cx="646.01" cy="158.26" r="3" fill="#0000ff"/><circle cx="656.48" cy="150.89" r="3" fill="#0000ff"/><circle cx="666.95" cy="146.55" r="3" fill="#0000ff"/><circle cx="678.99" cy="138.35" r="3" fill="#0000ff"/><circle cx="689.77" cy="133.68" r="3" fill="#0000ff"/><circle cx="699.83" cy="129.27" r="3" fill="#0000ff"/><circle cx="709.88" cy="121.69" r="3" fill="#0000ff"/><circle cx="719.93" cy="112.75" r="3" fill="#0000ff"/><circle cx="729.77" cy="104.59" r="3" fill="#0000ff"/><circle cx="740.24" cy="93.63" r="3" fill="#0000ff"/><circle cx="750.71" cy="85.69" r="3" fill="#0000ff"/><circle cx="760.76" cy="77.69" r="3" fill="#0000ff"/><circle cx="771.65" cy="69.81" r="3" fill="#0000ff"/><circle cx="782.12" cy="63.57" r="3" fill="#0000ff"/><circle cx="792.59" cy="59.98" r="3" fill="#0000ff"/><circle cx="803.06" cy="54.5" r="3" fill="#0000ff"/><circle cx="813.53" cy="51.86" r="3" fill="#0000ff"/><circle cx="813.53" cy="46.19" r="3" fill="#0000ff"/><circle cx="803.06" cy="51.29" r="3" fill="#0000ff"/><circle cx="792.59" cy="53.75" r="3" fill="#0000ff"/><circle cx="782.12" cy="59.98" r="3" fill="#0000ff"/><circle cx="771.65" cy="64.52" r="3" fill="#0000ff"/><circle cx="768.51" cy="66.13" r="3" fill="#0000ff"/><circle cx="757.83" cy="71.45" r="3" fill="#0000ff"/><circle cx="747.05" cy="75.91" r="3" fill="#0000ff"/><circle cx="736.68" cy="81.86" r="3" fill="#0000ff"/><circle cx="726.31" cy="91.39" r="3" fill="#0000ff"/><circle cx="715.11" cy="102.03" r="3" fill="#0000ff"/><circle cx="705.69" cy="109.65" r="3" fill="#0000ff"/><circle cx="695.43" cy="117.13" r="3" fill="#0000ff"/><circle cx="685.27" cy="126.03" r="3" fill="#0000ff"/><circle cx="682.13" cy="128.21" r="3" fill="#0000ff"/><circle cx="678.99" cy="130.34" r="3" fill="#0000ff"/><circle cx="675.85" cy="132.54" r="3" fill="#0000ff"/><circle cx="672.71" cy="134.81" r="3" fill="#0000ff"/><circle cx="669.57" cy="137.04" r="3" fill="#0000ff"/><circle cx="666.95" cy="138.8" r="3" fill="#0000ff"/><circle cx="656.48" cy="145.03" r="3" fill="#0000ff"/><circle cx="646.01" cy="150.7" r="3" fill="#0000ff"/><circle cx="635.54" cy="156.19" r="3" fill="#0000ff"/></g>
<polyline points="624.02,189.85 625.07,189.6 635.54,181.2 646.01,177.06 656.48,162.87 666.95,162.63 669.57,162.3 672.18,160.76 674.8,159.71 677.42,158.26 680.04,156.09 682.65,153.66 685.27,151.05 687.89,148.82 690.51,147.53 693.12,144.52 695.74,142.03 698.36,140.68 700.98,138.97 703.59,136.71 706.21,135.03 708.83,132.47 711.45,130.43 714.06,127.52 716.68,125.19 719.3,122.44 721.92,117.42 724.53,112.03 727.15,106.96 729.77,101.73 732.39,97.93 735,92.15 737.62,88 740.24,84.41 742.86,81.17 745.47,77.75 748.09,74.24 750.71,71.78 753.33,69.25 755.94,67.42 758.56,65.1 761.18,61.97 763.8,59.91 766.41,57.96 769.03,55.28 771.65,53.94 782.12,48.24 792.59,39.56 803.06,31.13 813.53,28.61 813.53,23.58 803.06,26.53 792.59,35.2 782.12,42.35 771.65,47.46 769.03,48.24 766.41,49.56 763.8,50.56 761.18,52.4 758.56,54 755.94,56.34 753.33,58.1 750.71,59.76 748.09,61.93 745.47,63.58 742.86,66.36 740.24,68.9 737.62,71.13 735,73.67 732.39,75.74 729.77,78.25 727.15,79.93 724.53,83.12 721.92,85.99 719.3,89.86 716.68,94.93 714.06,100.74 711.45,106.53 708.83,110.44 706.21,113.32 703.59,116.58 700.98,119.49 698.36,121.97 695.74,125.56 693.12,128.65 690.51,131.5 687.89,134.6 685.27,138.23 682.65,141.28 680.04,143.79 677.42,146.64 674.8,149.89 672.18,151.1 669.57,153.78 666.95,155.34 656.48,157.95 646.01,169.31 635.54,178.14 625.07,182.87 624.02,183.3" fill="none" stroke="#7000e6" stroke-width="2" stroke-linejoin="round" stroke-linecap="butt"/>
<g><rect x="632.64" y="178.3" width="5.8" height="5.8" fill="#7000e6"/><rect x="643.11" y="174.16" width="5.8" height="5.8" fill="#7000e6"/><rect x="653.58" y="159.97" width="5.8" height="5.8" fill="#7000e6"/><rect x="664.05" y="159.73" width="5.8" height="5.8" fill="#7000e6"/><rect x="666.67" y="159.4" width="5.8" height="5.8" fill="#7000e6"/><rect x="669.28" y="157.86" width="5.8" height="5.8" fill="#7000e6"/><rect x="671.9" y="156.81" width="5.8" height="5.8" fill="#7000e6"/><rect x="674.52" y="155.36" width="5.8" height="5.8" fill="#7000e6"/><rect x="677.14" y="153.19" width="5.8" height="5.8" fill="#7000e6"/><rect x="679.75" y="150.76" width="5.8" height="5.8" fill="#7000e6"/><rect x="682.37" y="148.15" width="5.8" height="5.8" fill="#7000e6"/><rect x="684.99" y="145.92" width="5.8" height="5.8" fill="#7000e6"/><rect x="687.61" y="144.63" width="5.8" height="5.8" fill="#7000e6"/><rect x="690.23" y="141.62" width="5.8" height="5.8" fill="#7000e6"/><rect x="692.84" y="139.13" width="5.8" height="5.8" fill="#7000e6"/><rect x="695.46" y="137.78" width="5.8" height="5.8" fill="#7000e6"/><rect x="698.08" y="136.07" width="5.8" height="5.8" fill="#7000e6"/><rect x="700.69" y="133.81" width="5.8" height="5.8" fill="#7000e6"/><rect x="703.31" y="132.13" width="5.8" height="5.8" fill="#7000e6"/><rect x="705.93" y="129.57" width="5.8" height="5.8" fill="#7000e6"/><rect x="708.55" y="127.53" width="5.8" height="5.8" fill="#7000e6"/><rect x="711.16" y="124.62" width="5.8" height="5.8" fill="#7000e6"/><rect x="713.78" y="122.29" width="5.8" height="5.8" fill="#7000e6"/><rect x="716.4" y="119.54" width="5.8" height="5.8" fill="#7000e6"/><rect x="719.02" y="114.52" width="5.8" height="5.8" fill="#7000e6"/><rect x="721.63" y="109.13" width="5.8" height="5.8" fill="#7000e6"/><rect x="724.25" y="104.06" width="5.8" height="5.8" fill="#7000e6"/><rect x="726.87" y="98.83" width="5.8" height="5.8" fill="#7000e6"/><rect x="729.49" y="95.03" width="5.8" height="5.8" fill="#7000e6"/><rect x="732.11" y="89.25" width="5.8" height="5.8" fill="#7000e6"/><rect x="734.72" y="85.1" width="5.8" height="5.8" fill="#7000e6"/><rect x="737.34" y="81.51" width="5.8" height="5.8" fill="#7000e6"/><rect x="739.96" y="78.27" width="5.8" height="5.8" fill="#7000e6"/><rect x="742.57" y="74.85" width="5.8" height="5.8" fill="#7000e6"/><rect x="745.19" y="71.34" width="5.8" height="5.8" fill="#7000e6"/><rect x="747.81" y="68.88" width="5.8" height="5.8" fill="#7000e6"/><rect x="750.43" y="66.35" width="5.8" height="5.8" fill="#7000e6"/><rect x="753.04" y="64.52" width="5.8" height="5.8" fill="#7000e6"/><rect x="755.66" y="62.2" width="5.8" height="5.8" fill="#7000e6"/><rect x="758.28" y="59.07" width="5.8" height="5.8" fill="#7000e6"/><rect x="760.9" y="57.01" width="5.8" height="5.8" fill="#7000e6"/><rect x="763.51" y="55.06" width="5.8" height="5.8" fill="#7000e6"/><rect x="766.13" y="52.38" width="5.8" height="5.8" fill="#7000e6"/><rect x="768.75" y="51.04" width="5.8" height="5.8" fill="#7000e6"/><rect x="779.22" y="45.34" width="5.8" height="5.8" fill="#7000e6"/><rect x="789.69" y="36.66" width="5.8" height="5.8" fill="#7000e6"/><rect x="800.16" y="28.23" width="5.8" height="5.8" fill="#7000e6"/><rect x="810.63" y="25.71" width="5.8" height="5.8" fill="#7000e6"/><rect x="810.63" y="20.68" width="5.8" height="5.8" fill="#7000e6"/><rect x="800.16" y="23.63" width="5.8" height="5.8" fill="#7000e6"/><rect x="789.69" y="32.3" width="5.8" height="5.8" fill="#7000e6"/><rect x="779.22" y="39.45" width="5.8" height="5.8" fill="#7000e6"/><rect x="768.75" y="44.56" width="5.8" height="5.8" fill="#7000e6"/><rect x="766.13" y="45.34" width="5.8" height="5.8" fill="#7000e6"/><rect x="763.51" y="46.66" width="5.8" height="5.8" fill="#7000e6"/><rect x="760.9" y="47.66" width="5.8" height="5.8" fill="#7000e6"/><rect x="758.28" y="49.5" width="5.8" height="5.8" fill="#7000e6"/><rect x="755.66" y="51.1" width="5.8" height="5.8" fill="#7000e6"/><rect x="753.04" y="53.44" width="5.8" height="5.8" fill="#7000e6"/><rect x="750.43" y="55.2" width="5.8" height="5.8" fill="#7000e6"/><rect x="747.81" y="56.86" width="5.8" height="5.8" fill="#7000e6"/><rect x="745.19" y="59.03" width="5.8" height="5.8" fill="#7000e6"/><rect x="742.57" y="60.68" width="5.8" height="5.8" fill="#7000e6"/><rect x="739.96" y="63.46" width="5.8" height="5.8" fill="#7000e6"/><rect x="737.34" y="66" width="5.8" height="5.8" fill="#7000e6"/><rect x="734.72" y="68.23" width="5.8" height="5.8" fill="#7000e6"/><rect x="732.11" y="70.77" width="5.8" height="5.8" fill="#7000e6"/><rect x="729.49" y="72.84" width="5.8" height="5.8" fill="#7000e6"/><rect x="726.87" y="75.35" width="5.8" height="5.8" fill="#7000e6"/><rect x="724.25" y="77.03" width="5.8" height="5.8" fill="#7000e6"/><rect x="721.63" y="80.22" width="5.8" height="5.8" fill="#7000e6"/><rect x="719.02" y="83.09" width="5.8" height="5.8" fill="#7000e6"/><rect x="716.4" y="86.96" width="5.8" height="5.8" fill="#7000e6"/><rect x="713.78" y="92.03" width="5.8" height="5.8" fill="#7000e6"/><rect x="711.16" y="97.84" width="5.8" height="5.8" fill="#7000e6"/><rect x="708.55" y="103.63" width="5.8" height="5.8" fill="#7000e6"/><rect x="705.93" y="107.54" width="5.8" height="5.8" fill="#7000e6"/><rect x="703.31" y="110.42" width="5.8" height="5.8" fill="#7000e6"/><rect x="700.69" y="113.68" width="5.8" height="5.8" fill="#7000e6"/><rect x="698.08" y="116.59" width="5.8" height="5.8" fill="#7000e6"/><rect x="695.46" y="119.07" width="5.8" height="5.8" fill="#7000e6"/><rect x="692.84" y="122.66" width="5.8" height="5.8" fill="#7000e6"/><rect x="690.23" y="125.75" width="5.8" height="5.8" fill="#7000e6"/><rect x="687.61" y="128.6" width="5.8" height="5.8" fill="#7000e6"/><rect x="684.99" y="131.7" width="5.8" height="5.8" fill="#7000e6"/><rect x="682.37" y="135.33" width="5.8" height="5.8" fill="#7000e6"/><rect x="679.75" y="138.38" width="5.8" height="5.8" fill="#7000e6"/><rect x="677.14" y="140.89" width="5.8" height="5.8" fill="#7000e6"/><rect x="674.52" y="143.74" width="5.8" height="5.8" fill="#7000e6"/><rect x="671.9" y="146.99" width="5.8" height="5.8" fill="#7000e6"/><rect x="669.28" y="148.2" width="5.8" height="5.8" fill="#7000e6"/><rect x="666.67" y="150.88" width="5.8" height="5.8" fill="#7000e6"/><rect x="664.05" y="152.44" width="5.8" height="5.8" fill="#7000e6"/><rect x="653.58" y="155.05" width="5.8" height="5.8" fill="#7000e6"/><rect x="643.11" y="166.41" width="5.8" height="5.8" fill="#7000e6"/><rect x="632.64" y="175.24" width="5.8" height="5.8" fill="#7000e6"/></g>
<text x="561.8" y="19.7" font-size="21.5" text-anchor="start" font-weight="bold">c</text>
<text transform="translate(594.9,104.27) rotate(-90)" font-size="15.7" text-anchor="middle"><tspan font-style="italic">M</tspan> (x10<tspan font-size="10.5" dy="-9.2">-7</tspan><tspan dy="9.2" dx="1"> emu/mm</tspan><tspan font-size="10.5" dy="-9.2">2</tspan><tspan dy="9.2">)</tspan></text>
<text x="719.25" y="234.15" font-size="15.7" text-anchor="middle"><tspan font-style="italic">H</tspan><tspan dx="-1.2"> (Oe)</tspan></text>
<text x="631.2" y="27.8" font-size="13.75" text-anchor="start">Bi/Mn = 12.5</text>
<text x="631.2" y="42.6" font-size="13.75" text-anchor="start"><tspan font-style="italic">H</tspan> || <tspan dx="-0.9">0001</tspan></text>
<line x1="740" y1="138.3" x2="765" y2="138.3" stroke="#7000e6" stroke-width="2" stroke-linecap="round"/>
<rect x="749.5" y="135.4" width="5.8" height="5.8" fill="#7000e6"/>
<text x="803.8" y="143.1" font-size="13.75" text-anchor="end">1.8 K</text>
<line x1="740" y1="154.1" x2="765" y2="154.1" stroke="#0000ff" stroke-width="2" stroke-linecap="round"/>
<circle cx="752.4" cy="154.1" r="3" fill="#0000ff"/>
<text x="803.8" y="158.9" font-size="13.75" text-anchor="end">5.0 K</text>
<line x1="740" y1="169.9" x2="765" y2="169.9" stroke="#009900" stroke-width="2" stroke-linecap="round"/>
<polygon points="752.4,165.5 749.3,172.1 755.5,172.1" fill="#009900"/>
<text x="803.8" y="174.7" font-size="13.75" text-anchor="end">10 K</text>
<line x1="740" y1="185.7" x2="765" y2="185.7" stroke="#ff0000" stroke-width="2" stroke-linecap="round"/>
<polygon points="752.4,190.1 749.3,183.5 755.5,183.5" fill="#ff0000"/>
<text x="803.8" y="190.5" font-size="13.75" text-anchor="end">15 K</text>
<path d="M390.3 462.3V457.7M442.7 462.3V457.7M495.1 462.3V457.7M343.1 458.3H347.7M343.1 410.9H347.7M343.1 363.5H347.7M343.1 316.1H347.7M343.1 268.7H347.7" stroke="#222" stroke-width="1" fill="none"/>
<rect x="343.1" y="264.6" width="198.4" height="197.7" fill="none" stroke="#404040" stroke-width="1.25"/>
<text x="390.3" y="478.4" font-size="13.75" text-anchor="middle">-500</text>
<text x="442.7" y="478.4" font-size="13.75" text-anchor="middle">0</text>
<text x="495.1" y="478.4" font-size="13.75" text-anchor="middle">500</text>
<text x="340.3" y="463.4" font-size="13.75" text-anchor="end">-4</text>
<text x="340.3" y="416" font-size="13.75" text-anchor="end">-2</text>
<text x="340.3" y="368.6" font-size="13.75" text-anchor="end">0</text>
<text x="340.3" y="321.2" font-size="13.75" text-anchor="end">2</text>
<text x="340.3" y="273.8" font-size="13.75" text-anchor="end">4</text>
<polyline points="347.33,365.9 348.38,366.3 358.86,366.08 369.34,364.84 379.82,364.69 390.3,364.99 402.35,363 413.15,362.61 423.21,362.91 433.27,363.32 443.33,363.39 453.18,363.77 463.66,363.95 474.14,362.98 484.2,363.63 495.1,362.6 505.58,363.36 516.06,362.62 526.54,362.52 537.02,361.47 537.02,360.1 526.54,361.38 516.06,361.12 505.58,361.53 495.1,362.36 491.96,361.53 481.27,361.4 470.47,362.1 460.1,362.22 449.72,361.63 438.51,362.86 429.08,362.68 418.81,362.17 408.64,362.67 405.5,361.58 402.35,362.2 399.21,362.88 396.06,362.88 392.92,361.35 390.3,363.08 379.82,363.46 369.34,363.26 358.86,363.4 348.38,363.87 347.33,364" fill="none" stroke="#ff0000" stroke-width="2" stroke-linejoin="round" stroke-linecap="butt"/>
<g><polygon points="358.86,370.48 355.76,363.88 361.96,363.88" fill="#ff0000"/><polygon points="369.34,369.24 366.24,362.64 372.44,362.64" fill="#ff0000"/><polygon points="379.82,369.09 376.72,362.49 382.92,362.49" fill="#ff0000"/><polygon points="390.3,369.39 387.2,362.79 393.4,362.79" fill="#ff0000"/><polygon points="402.35,367.4 399.25,360.8 405.45,360.8" fill="#ff0000"/><polygon points="413.15,367.01 410.05,360.41 416.25,360.41" fill="#ff0000"/><polygon points="423.21,367.31 420.11,360.71 426.31,360.71" fill="#ff0000"/><polygon points="433.27,367.72 430.17,361.12 436.37,361.12" fill="#ff0000"/><polygon points="443.33,367.79 440.23,361.19 446.43,361.19" fill="#ff0000"/><polygon points="453.18,368.17 450.08,361.57 456.28,361.57" fill="#ff0000"/><polygon points="463.66,368.35 460.56,361.75 466.76,361.75" fill="#ff0000"/><polygon points="474.14,367.38 471.04,360.78 477.24,360.78" fill="#ff0000"/><polygon points="484.2,368.03 481.1,361.43 487.3,361.43" fill="#ff0000"/><polygon points="495.1,367 492,360.4 498.2,360.4" fill="#ff0000"/><polygon points="505.58,367.76 502.48,361.16 508.68,361.16" fill="#ff0000"/><polygon points="516.06,367.02 512.96,360.42 519.16,360.42" fill="#ff0000"/><polygon points="526.54,366.92 523.44,360.32 529.64,360.32" fill="#ff0000"/><polygon points="537.02,365.87 533.92,359.27 540.12,359.27" fill="#ff0000"/><polygon points="537.02,364.5 533.92,357.9 540.12,357.9" fill="#ff0000"/><polygon points="526.54,365.78 523.44,359.18 529.64,359.18" fill="#ff0000"/><polygon points="516.06,365.52 512.96,358.92 519.16,358.92" fill="#ff0000"/><polygon points="505.58,365.93 502.48,359.33 508.68,359.33" fill="#ff0000"/><polygon points="495.1,366.76 492,360.16 498.2,360.16" fill="#ff0000"/><polygon points="491.96,365.93 488.86,359.33 495.06,359.33" fill="#ff0000"/><polygon points="481.27,365.8 478.17,359.2 484.37,359.2" fill="#ff0000"/><polygon points="470.47,366.5 467.37,359.9 473.57,359.9" fill="#ff0000"/><polygon points="460.1,366.62 457,360.02 463.2,360.02" fill="#ff0000"/><polygon points="449.72,366.03 446.62,359.43 452.82,359.43" fill="#ff0000"/><polygon points="438.51,367.26 435.41,360.66 441.61,360.66" fill="#ff0000"/><polygon points="429.08,367.08 425.98,360.48 432.18,360.48" fill="#ff0000"/><polygon points="418.81,366.57 415.71,359.97 421.91,359.97" fill="#ff0000"/><polygon points="408.64,367.07 405.54,360.47 411.74,360.47" fill="#ff0000"/><polygon points="405.5,365.98 402.4,359.38 408.6,359.38" fill="#ff0000"/><polygon points="402.35,366.6 399.25,360 405.45,360" fill="#ff0000"/><polygon points="399.21,367.28 396.11,360.68 402.31,360.68" fill="#ff0000"/><polygon points="396.06,367.28 392.96,360.68 399.16,360.68" fill="#ff0000"/><polygon points="392.92,365.75 389.82,359.15 396.02,359.15" fill="#ff0000"/><polygon points="390.3,367.48 387.2,360.88 393.4,360.88" fill="#ff0000"/><polygon points="379.82,367.86 376.72,361.26 382.92,361.26" fill="#ff0000"/><polygon points="369.34,367.66 366.24,361.06 372.44,361.06" fill="#ff0000"/><polygon points="358.86,367.8 355.76,361.2 361.96,361.2" fill="#ff0000"/></g>
<polyline points="347.33,371.14 348.38,371.46 358.86,370.42 369.34,369.47 379.82,369.17 390.3,369.07 402.35,366.68 413.15,366.75 423.21,365.05 433.27,363.41 443.33,363.46 453.18,363.25 463.66,362.55 474.14,360.46 484.2,360.23 495.1,359.13 505.58,358.17 516.06,357.91 526.54,357.36 537.02,357.08 537.02,355.71 526.54,356.46 516.06,356.76 505.58,357.7 495.1,358.21 491.96,357.97 481.27,358.61 470.47,359.01 460.1,360.93 449.72,360.1 438.51,361.19 429.08,362.9 418.81,364.64 408.64,364.34 405.5,364.49 402.35,365.85 399.21,364.95 396.06,365.3 392.92,365.81 390.3,365.32 379.82,365.87 369.34,367.26 358.86,367.56 348.38,368.55 347.33,368.29" fill="none" stroke="#009900" stroke-width="2" stroke-linejoin="round" stroke-linecap="butt"/>
<g><polygon points="358.86,366.02 355.76,372.62 361.96,372.62" fill="#009900"/><polygon points="369.34,365.07 366.24,371.67 372.44,371.67" fill="#009900"/><polygon points="379.82,364.77 376.72,371.37 382.92,371.37" fill="#009900"/><polygon points="390.3,364.67 387.2,371.27 393.4,371.27" fill="#009900"/><polygon points="402.35,362.28 399.25,368.88 405.45,368.88" fill="#009900"/><polygon points="413.15,362.35 410.05,368.95 416.25,368.95" fill="#009900"/><polygon points="423.21,360.65 420.11,367.25 426.31,367.25" fill="#009900"/><polygon points="433.27,359.01 430.17,365.61 436.37,365.61" fill="#009900"/><polygon points="443.33,359.06 440.23,365.66 446.43,365.66" fill="#009900"/><polygon points="453.18,358.85 450.08,365.45 456.28,365.45" fill="#009900"/><polygon points="463.66,358.15 460.56,364.75 466.76,364.75" fill="#009900"/><polygon points="474.14,356.06 471.04,362.66 477.24,362.66" fill="#009900"/><polygon points="484.2,355.83 481.1,362.43 487.3,362.43" fill="#009900"/><polygon points="495.1,354.73 492,361.33 498.2,361.33" fill="#009900"/><polygon points="505.58,353.77 502.48,360.37 508.68,360.37" fill="#009900"/><polygon points="516.06,353.51 512.96,360.11 519.16,360.11" fill="#009900"/><polygon points="526.54,352.96 523.44,359.56 529.64,359.56" fill="#009900"/><polygon points="537.02,352.68 533.92,359.28 540.12,359.28" fill="#009900"/><polygon points="537.02,351.31 533.92,357.91 540.12,357.91" fill="#009900"/><polygon points="526.54,352.06 523.44,358.66 529.64,358.66" fill="#009900"/><polygon points="516.06,352.36 512.96,358.96 519.16,358.96" fill="#009900"/><polygon points="505.58,353.3 502.48,359.9 508.68,359.9" fill="#009900"/><polygon points="495.1,353.81 492,360.41 498.2,360.41" fill="#009900"/><polygon points="491.96,353.57 488.86,360.17 495.06,360.17" fill="#009900"/><polygon points="481.27,354.21 478.17,360.81 484.37,360.81" fill="#009900"/><polygon points="470.47,354.61 467.37,361.21 473.57,361.21" fill="#009900"/><polygon points="460.1,356.53 457,363.13 463.2,363.13" fill="#009900"/><polygon points="449.72,355.7 446.62,362.3 452.82,362.3" fill="#009900"/><polygon points="438.51,356.79 435.41,363.39 441.61,363.39" fill="#009900"/><polygon points="429.08,358.5 425.98,365.1 432.18,365.1" fill="#009900"/><polygon points="418.81,360.24 415.71,366.84 421.91,366.84" fill="#009900"/><polygon points="408.64,359.94 405.54,366.54 411.74,366.54" fill="#009900"/><polygon points="405.5,360.09 402.4,366.69 408.6,366.69" fill="#009900"/><polygon points="402.35,361.45 399.25,368.05 405.45,368.05" fill="#009900"/><polygon points="399.21,360.55 396.11,367.15 402.31,367.15" fill="#009900"/><polygon points="396.06,360.9 392.96,367.5 399.16,367.5" fill="#009900"/><polygon points="392.92,361.41 389.82,368.01 396.02,368.01" fill="#009900"/><polygon points="390.3,360.92 387.2,367.52 393.4,367.52" fill="#009900"/><polygon points="379.82,361.47 376.72,368.07 382.92,368.07" fill="#009900"/><polygon points="369.34,362.86 366.24,369.46 372.44,369.46" fill="#009900"/><polygon points="358.86,363.16 355.76,369.76 361.96,369.76" fill="#009900"/></g>
<polyline points="347.33,383.29 348.38,383.17 358.86,381.99 369.34,381.19 379.82,380.1 390.3,378.73 402.35,376.78 413.15,374.43 423.21,371.75 433.27,368.57 443.33,364.93 453.18,361.34 463.66,357.95 474.14,354.97 484.2,352.51 495.1,350.29 505.58,348.35 516.06,346.59 526.54,345.01 537.02,343.83 537.02,343.83 526.54,345.01 516.06,345.81 505.58,346.9 495.1,348.27 491.96,348.73 481.27,350.57 470.47,353.01 460.1,355.88 449.72,359.27 438.51,363.39 429.08,366.72 418.81,369.93 408.64,372.7 405.5,373.48 402.35,374.23 399.21,374.92 396.06,375.57 392.92,376.2 390.3,376.71 379.82,378.65 369.34,380.41 358.86,381.99 348.38,383.17 347.33,383.29" fill="none" stroke="#0000ff" stroke-width="2" stroke-linejoin="round" stroke-linecap="butt"/>
<g><circle cx="358.86" cy="381.99" r="3" fill="#0000ff"/><circle cx="369.34" cy="381.19" r="3" fill="#0000ff"/><circle cx="379.82" cy="380.1" r="3" fill="#0000ff"/><circle cx="390.3" cy="378.73" r="3" fill="#0000ff"/><circle cx="402.35" cy="376.78" r="3" fill="#0000ff"/><circle cx="413.15" cy="374.43" r="3" fill="#0000ff"/><circle cx="423.21" cy="371.75" r="3" fill="#0000ff"/><circle cx="433.27" cy="368.57" r="3" fill="#0000ff"/><circle cx="443.33" cy="364.93" r="3" fill="#0000ff"/><circle cx="453.18" cy="361.34" r="3" fill="#0000ff"/><circle cx="463.66" cy="357.95" r="3" fill="#0000ff"/><circle cx="474.14" cy="354.97" r="3" fill="#0000ff"/><circle cx="484.2" cy="352.51" r="3" fill="#0000ff"/><circle cx="495.1" cy="350.29" r="3" fill="#0000ff"/><circle cx="505.58" cy="348.35" r="3" fill="#0000ff"/><circle cx="516.06" cy="346.59" r="3" fill="#0000ff"/><circle cx="526.54" cy="345.01" r="3" fill="#0000ff"/><circle cx="537.02" cy="343.83" r="3" fill="#0000ff"/><circle cx="537.02" cy="343.83" r="3" fill="#0000ff"/><circle cx="526.54" cy="345.01" r="3" fill="#0000ff"/><circle cx="516.06" cy="345.81" r="3" fill="#0000ff"/><circle cx="505.58" cy="346.9" r="3" fill="#0000ff"/><circle cx="495.1" cy="348.27" r="3" fill="#0000ff"/><circle cx="491.96" cy="348.73" r="3" fill="#0000ff"/><circle cx="481.27" cy="350.57" r="3" fill="#0000ff"/><circle cx="470.47" cy="353.01" r="3" fill="#0000ff"/><circle cx="460.1" cy="355.88" r="3" fill="#0000ff"/><circle cx="449.72" cy="359.27" r="3" fill="#0000ff"/><circle cx="438.51" cy="363.39" r="3" fill="#0000ff"/><circle cx="429.08" cy="366.72" r="3" fill="#0000ff"/><circle cx="418.81" cy="369.93" r="3" fill="#0000ff"/><circle cx="408.64" cy="372.7" r="3" fill="#0000ff"/><circle cx="405.5" cy="373.48" r="3" fill="#0000ff"/><circle cx="402.35" cy="374.23" r="3" fill="#0000ff"/><circle cx="399.21" cy="374.92" r="3" fill="#0000ff"/><circle cx="396.06" cy="375.57" r="3" fill="#0000ff"/><circle cx="392.92" cy="376.2" r="3" fill="#0000ff"/><circle cx="390.3" cy="376.71" r="3" fill="#0000ff"/><circle cx="379.82" cy="378.65" r="3" fill="#0000ff"/><circle cx="369.34" cy="380.41" r="3" fill="#0000ff"/><circle cx="358.86" cy="381.99" r="3" fill="#0000ff"/></g>
<polyline points="347.33,442.64 348.38,442.46 358.86,439.85 369.34,438.65 379.82,437.24 390.3,434.89 392.92,434.16 395.54,433.35 398.16,432.49 400.78,431.59 403.4,430.68 406.02,429.75 408.64,428.73 411.26,427.59 413.88,426.28 416.5,424.8 419.12,423.12 421.74,421.25 424.36,419.02 426.98,416.34 429.6,413.27 432.22,409.57 434.84,404.65 437.46,398.31 440.08,390.78 442.7,366.87 445.32,339.28 447.94,330.43 450.56,323.47 453.18,317.88 455.8,314 458.42,310.88 461.04,308.14 463.66,305.83 466.28,303.92 468.9,302.22 471.52,300.71 474.14,299.37 476.76,298.21 479.38,297.17 482,296.23 484.62,295.32 487.24,294.41 489.86,293.54 492.48,292.73 495.1,291.98 505.58,289.59 516.06,288.16 526.54,286.97 537.02,285.56 537.02,284.08 526.54,285.5 516.06,286.69 505.58,288.1 495.1,290.45 492.48,291.18 489.86,291.99 487.24,292.85 484.62,293.75 482,294.66 479.38,295.6 476.76,296.61 474.14,297.75 471.52,299.06 468.9,300.54 466.28,302.22 463.66,304.09 461.04,306.32 458.42,309 455.8,312.04 453.18,315.76 450.56,321.07 447.94,327.83 445.32,335.77 442.7,360.11 440.08,387.34 437.46,395.77 434.84,402.32 432.22,407.48 429.6,411.3 426.98,414.46 424.36,417.2 421.74,419.51 419.12,421.42 416.5,423.12 413.88,424.63 411.26,425.97 408.64,427.14 406.02,428.17 403.4,429.11 400.78,430.02 398.16,430.93 395.54,431.8 392.92,432.62 390.3,433.36 379.82,435.75 369.34,437.18 358.86,438.38 348.38,438.62 347.33,438.67" fill="none" stroke="#7000e6" stroke-width="2" stroke-linejoin="round" stroke-linecap="butt"/>
<g><rect x="355.96" y="436.95" width="5.8" height="5.8" fill="#7000e6"/><rect x="366.44" y="435.75" width="5.8" height="5.8" fill="#7000e6"/><rect x="376.92" y="434.34" width="5.8" height="5.8" fill="#7000e6"/><rect x="387.4" y="431.99" width="5.8" height="5.8" fill="#7000e6"/><rect x="390.02" y="431.26" width="5.8" height="5.8" fill="#7000e6"/><rect x="392.64" y="430.45" width="5.8" height="5.8" fill="#7000e6"/><rect x="395.26" y="429.59" width="5.8" height="5.8" fill="#7000e6"/><rect x="397.88" y="428.69" width="5.8" height="5.8" fill="#7000e6"/><rect x="400.5" y="427.78" width="5.8" height="5.8" fill="#7000e6"/><rect x="403.12" y="426.85" width="5.8" height="5.8" fill="#7000e6"/><rect x="405.74" y="425.83" width="5.8" height="5.8" fill="#7000e6"/><rect x="408.36" y="424.69" width="5.8" height="5.8" fill="#7000e6"/><rect x="410.98" y="423.38" width="5.8" height="5.8" fill="#7000e6"/><rect x="413.6" y="421.9" width="5.8" height="5.8" fill="#7000e6"/><rect x="416.22" y="420.22" width="5.8" height="5.8" fill="#7000e6"/><rect x="418.84" y="418.35" width="5.8" height="5.8" fill="#7000e6"/><rect x="421.46" y="416.12" width="5.8" height="5.8" fill="#7000e6"/><rect x="424.08" y="413.44" width="5.8" height="5.8" fill="#7000e6"/><rect x="426.7" y="410.37" width="5.8" height="5.8" fill="#7000e6"/><rect x="429.32" y="406.67" width="5.8" height="5.8" fill="#7000e6"/><rect x="431.94" y="401.75" width="5.8" height="5.8" fill="#7000e6"/><rect x="434.56" y="395.41" width="5.8" height="5.8" fill="#7000e6"/><rect x="437.18" y="387.88" width="5.8" height="5.8" fill="#7000e6"/><rect x="439.8" y="363.97" width="5.8" height="5.8" fill="#7000e6"/><rect x="442.42" y="336.38" width="5.8" height="5.8" fill="#7000e6"/><rect x="445.04" y="327.53" width="5.8" height="5.8" fill="#7000e6"/><rect x="447.66" y="320.57" width="5.8" height="5.8" fill="#7000e6"/><rect x="450.28" y="314.98" width="5.8" height="5.8" fill="#7000e6"/><rect x="452.9" y="311.1" width="5.8" height="5.8" fill="#7000e6"/><rect x="455.52" y="307.98" width="5.8" height="5.8" fill="#7000e6"/><rect x="458.14" y="305.24" width="5.8" height="5.8" fill="#7000e6"/><rect x="460.76" y="302.93" width="5.8" height="5.8" fill="#7000e6"/><rect x="463.38" y="301.02" width="5.8" height="5.8" fill="#7000e6"/><rect x="466" y="299.32" width="5.8" height="5.8" fill="#7000e6"/><rect x="468.62" y="297.81" width="5.8" height="5.8" fill="#7000e6"/><rect x="471.24" y="296.47" width="5.8" height="5.8" fill="#7000e6"/><rect x="473.86" y="295.31" width="5.8" height="5.8" fill="#7000e6"/><rect x="476.48" y="294.27" width="5.8" height="5.8" fill="#7000e6"/><rect x="479.1" y="293.33" width="5.8" height="5.8" fill="#7000e6"/><rect x="481.72" y="292.42" width="5.8" height="5.8" fill="#7000e6"/><rect x="484.34" y="291.51" width="5.8" height="5.8" fill="#7000e6"/><rect x="486.96" y="290.64" width="5.8" height="5.8" fill="#7000e6"/><rect x="489.58" y="289.83" width="5.8" height="5.8" fill="#7000e6"/><rect x="492.2" y="289.08" width="5.8" height="5.8" fill="#7000e6"/><rect x="502.68" y="286.69" width="5.8" height="5.8" fill="#7000e6"/><rect x="513.16" y="285.26" width="5.8" height="5.8" fill="#7000e6"/><rect x="523.64" y="284.07" width="5.8" height="5.8" fill="#7000e6"/><rect x="534.12" y="282.66" width="5.8" height="5.8" fill="#7000e6"/><rect x="534.12" y="281.18" width="5.8" height="5.8" fill="#7000e6"/><rect x="523.64" y="282.6" width="5.8" height="5.8" fill="#7000e6"/><rect x="513.16" y="283.79" width="5.8" height="5.8" fill="#7000e6"/><rect x="502.68" y="285.2" width="5.8" height="5.8" fill="#7000e6"/><rect x="492.2" y="287.55" width="5.8" height="5.8" fill="#7000e6"/><rect x="489.58" y="288.28" width="5.8" height="5.8" fill="#7000e6"/><rect x="486.96" y="289.09" width="5.8" height="5.8" fill="#7000e6"/><rect x="484.34" y="289.95" width="5.8" height="5.8" fill="#7000e6"/><rect x="481.72" y="290.85" width="5.8" height="5.8" fill="#7000e6"/><rect x="479.1" y="291.76" width="5.8" height="5.8" fill="#7000e6"/><rect x="476.48" y="292.7" width="5.8" height="5.8" fill="#7000e6"/><rect x="473.86" y="293.71" width="5.8" height="5.8" fill="#7000e6"/><rect x="471.24" y="294.85" width="5.8" height="5.8" fill="#7000e6"/><rect x="468.62" y="296.16" width="5.8" height="5.8" fill="#7000e6"/><rect x="466" y="297.64" width="5.8" height="5.8" fill="#7000e6"/><rect x="463.38" y="299.32" width="5.8" height="5.8" fill="#7000e6"/><rect x="460.76" y="301.19" width="5.8" height="5.8" fill="#7000e6"/><rect x="458.14" y="303.42" width="5.8" height="5.8" fill="#7000e6"/><rect x="455.52" y="306.1" width="5.8" height="5.8" fill="#7000e6"/><rect x="452.9" y="309.14" width="5.8" height="5.8" fill="#7000e6"/><rect x="450.28" y="312.86" width="5.8" height="5.8" fill="#7000e6"/><rect x="447.66" y="318.17" width="5.8" height="5.8" fill="#7000e6"/><rect x="445.04" y="324.93" width="5.8" height="5.8" fill="#7000e6"/><rect x="442.42" y="332.87" width="5.8" height="5.8" fill="#7000e6"/><rect x="439.8" y="357.21" width="5.8" height="5.8" fill="#7000e6"/><rect x="437.18" y="384.44" width="5.8" height="5.8" fill="#7000e6"/><rect x="434.56" y="392.87" width="5.8" height="5.8" fill="#7000e6"/><rect x="431.94" y="399.42" width="5.8" height="5.8" fill="#7000e6"/><rect x="429.32" y="404.58" width="5.8" height="5.8" fill="#7000e6"/><rect x="426.7" y="408.4" width="5.8" height="5.8" fill="#7000e6"/><rect x="424.08" y="411.56" width="5.8" height="5.8" fill="#7000e6"/><rect x="421.46" y="414.3" width="5.8" height="5.8" fill="#7000e6"/><rect x="418.84" y="416.61" width="5.8" height="5.8" fill="#7000e6"/><rect x="416.22" y="418.52" width="5.8" height="5.8" fill="#7000e6"/><rect x="413.6" y="420.22" width="5.8" height="5.8" fill="#7000e6"/><rect x="410.98" y="421.73" width="5.8" height="5.8" fill="#7000e6"/><rect x="408.36" y="423.07" width="5.8" height="5.8" fill="#7000e6"/><rect x="405.74" y="424.24" width="5.8" height="5.8" fill="#7000e6"/><rect x="403.12" y="425.27" width="5.8" height="5.8" fill="#7000e6"/><rect x="400.5" y="426.21" width="5.8" height="5.8" fill="#7000e6"/><rect x="397.88" y="427.12" width="5.8" height="5.8" fill="#7000e6"/><rect x="395.26" y="428.03" width="5.8" height="5.8" fill="#7000e6"/><rect x="392.64" y="428.9" width="5.8" height="5.8" fill="#7000e6"/><rect x="390.02" y="429.72" width="5.8" height="5.8" fill="#7000e6"/><rect x="387.4" y="430.46" width="5.8" height="5.8" fill="#7000e6"/><rect x="376.92" y="432.85" width="5.8" height="5.8" fill="#7000e6"/><rect x="366.44" y="434.28" width="5.8" height="5.8" fill="#7000e6"/><rect x="355.96" y="435.48" width="5.8" height="5.8" fill="#7000e6"/></g>
<text x="280.6" y="275.7" font-size="21.5" text-anchor="start" font-weight="bold">e</text>
<text transform="translate(316.2,362.05) rotate(-90)" font-size="15.7" text-anchor="middle"><tspan font-style="italic">M</tspan> (x10<tspan font-size="10.5" dy="-9.2">-7</tspan><tspan dy="9.2" dx="1"> emu/mm</tspan><tspan font-size="10.5" dy="-9.2">2</tspan><tspan dy="9.2">)</tspan></text>
<text x="442.3" y="491.6" font-size="15.7" text-anchor="middle"><tspan font-style="italic">H</tspan><tspan dx="-1.2"> (Oe)</tspan></text>
<text x="351.4" y="285.7" font-size="13.75" text-anchor="start">Bi/Mn = 23.6</text>
<text x="351.4" y="301.9" font-size="13.75" text-anchor="start"><tspan font-style="italic">H</tspan> || 1<tspan dx="1.2">1</tspan><tspan dx="-0.2">0</tspan>0</text>
<line x1="384" y1="289.9" x2="392.6" y2="289.9" stroke="#111" stroke-width="1.4"/>
<line x1="463.2" y1="394.1" x2="488.5" y2="394.1" stroke="#7000e6" stroke-width="2" stroke-linecap="round"/>
<rect x="472.85" y="391.2" width="5.8" height="5.8" fill="#7000e6"/>
<text x="526.3" y="398.9" font-size="13.75" text-anchor="end">1.8 K</text>
<line x1="463.2" y1="409.9" x2="488.5" y2="409.9" stroke="#0000ff" stroke-width="2" stroke-linecap="round"/>
<circle cx="475.75" cy="409.9" r="3" fill="#0000ff"/>
<text x="526.3" y="414.7" font-size="13.75" text-anchor="end">5.0 K</text>
<line x1="463.2" y1="425.7" x2="488.5" y2="425.7" stroke="#009900" stroke-width="2" stroke-linecap="round"/>
<polygon points="475.75,421.3 472.65,427.9 478.85,427.9" fill="#009900"/>
<text x="526.3" y="430.5" font-size="13.75" text-anchor="end">10 K</text>
<line x1="463.2" y1="441.5" x2="488.5" y2="441.5" stroke="#ff0000" stroke-width="2" stroke-linecap="round"/>
<polygon points="475.75,445.9 472.65,439.3 478.85,439.3" fill="#ff0000"/>
<text x="526.3" y="446.3" font-size="13.75" text-anchor="end">15 K</text>
<path d="M667.35 462.25V457.65M719.7 462.25V457.65M772.05 462.25V457.65M620.55 458.3H625.15M620.55 410.9H625.15M620.55 363.5H625.15M620.55 316.1H625.15M620.55 268.7H625.15" stroke="#222" stroke-width="1" fill="none"/>
<rect x="620.55" y="264.6" width="198.45" height="197.65" fill="none" stroke="#404040" stroke-width="1.25"/>
<text x="667.35" y="478.35" font-size="13.75" text-anchor="middle">-500</text>
<text x="719.7" y="478.35" font-size="13.75" text-anchor="middle">0</text>
<text x="772.05" y="478.35" font-size="13.75" text-anchor="middle">500</text>
<text x="617.75" y="463.4" font-size="13.75" text-anchor="end">-2</text>
<text x="617.75" y="416" font-size="13.75" text-anchor="end">-1</text>
<text x="617.75" y="368.6" font-size="13.75" text-anchor="end">0</text>
<text x="617.75" y="321.2" font-size="13.75" text-anchor="end">1</text>
<text x="617.75" y="273.8" font-size="13.75" text-anchor="end">2</text>
<polyline points="624.42,380.22 625.47,379.7 635.94,379.17 646.41,377.33 656.88,376.15 667.35,376.3 679.39,375.37 690.17,373.34 700.23,371.6 710.28,371.07 720.33,369.93 730.17,367.99 740.64,368.38 751.11,365.67 761.16,364.56 772.05,361.91 782.52,360.75 792.99,359.11 803.46,356.79 813.93,355.61 813.93,347.72 803.46,347.89 792.99,348.21 782.52,349.49 772.05,350.47 768.91,351.19 758.23,352.53 747.45,353.82 737.08,356.43 726.71,357.78 715.51,360.37 706.09,360.57 695.83,362.99 685.67,364.58 682.53,364.53 679.39,365.32 676.25,366.48 673.11,366.49 669.97,368.22 667.35,367.52 656.88,369.03 646.41,371.25 635.94,370.69 625.47,372.91 624.42,372.61" fill="none" stroke="#ff0000" stroke-width="2" stroke-linejoin="round" stroke-linecap="butt"/>
<g><polygon points="635.94,383.57 632.84,376.97 639.04,376.97" fill="#ff0000"/><polygon points="646.41,381.73 643.31,375.13 649.51,375.13" fill="#ff0000"/><polygon points="656.88,380.55 653.78,373.95 659.98,373.95" fill="#ff0000"/><polygon points="667.35,380.7 664.25,374.1 670.45,374.1" fill="#ff0000"/><polygon points="679.39,379.77 676.29,373.17 682.49,373.17" fill="#ff0000"/><polygon points="690.17,377.74 687.07,371.14 693.27,371.14" fill="#ff0000"/><polygon points="700.23,376 697.13,369.4 703.33,369.4" fill="#ff0000"/><polygon points="710.28,375.47 707.18,368.87 713.38,368.87" fill="#ff0000"/><polygon points="720.33,374.33 717.23,367.73 723.43,367.73" fill="#ff0000"/><polygon points="730.17,372.39 727.07,365.79 733.27,365.79" fill="#ff0000"/><polygon points="740.64,372.78 737.54,366.18 743.74,366.18" fill="#ff0000"/><polygon points="751.11,370.07 748.01,363.47 754.21,363.47" fill="#ff0000"/><polygon points="761.16,368.96 758.06,362.36 764.26,362.36" fill="#ff0000"/><polygon points="772.05,366.31 768.95,359.71 775.15,359.71" fill="#ff0000"/><polygon points="782.52,365.15 779.42,358.55 785.62,358.55" fill="#ff0000"/><polygon points="792.99,363.51 789.89,356.91 796.09,356.91" fill="#ff0000"/><polygon points="803.46,361.19 800.36,354.59 806.56,354.59" fill="#ff0000"/><polygon points="813.93,360.01 810.83,353.41 817.03,353.41" fill="#ff0000"/><polygon points="813.93,352.12 810.83,345.52 817.03,345.52" fill="#ff0000"/><polygon points="803.46,352.29 800.36,345.69 806.56,345.69" fill="#ff0000"/><polygon points="792.99,352.61 789.89,346.01 796.09,346.01" fill="#ff0000"/><polygon points="782.52,353.89 779.42,347.29 785.62,347.29" fill="#ff0000"/><polygon points="772.05,354.87 768.95,348.27 775.15,348.27" fill="#ff0000"/><polygon points="768.91,355.59 765.81,348.99 772.01,348.99" fill="#ff0000"/><polygon points="758.23,356.93 755.13,350.33 761.33,350.33" fill="#ff0000"/><polygon points="747.45,358.22 744.35,351.62 750.55,351.62" fill="#ff0000"/><polygon points="737.08,360.83 733.98,354.23 740.18,354.23" fill="#ff0000"/><polygon points="726.71,362.18 723.61,355.58 729.81,355.58" fill="#ff0000"/><polygon points="715.51,364.77 712.41,358.17 718.61,358.17" fill="#ff0000"/><polygon points="706.09,364.97 702.99,358.37 709.19,358.37" fill="#ff0000"/><polygon points="695.83,367.39 692.73,360.79 698.93,360.79" fill="#ff0000"/><polygon points="685.67,368.98 682.57,362.38 688.77,362.38" fill="#ff0000"/><polygon points="682.53,368.93 679.43,362.33 685.63,362.33" fill="#ff0000"/><polygon points="679.39,369.72 676.29,363.12 682.49,363.12" fill="#ff0000"/><polygon points="676.25,370.88 673.15,364.28 679.35,364.28" fill="#ff0000"/><polygon points="673.11,370.89 670.01,364.29 676.21,364.29" fill="#ff0000"/><polygon points="669.97,372.62 666.87,366.02 673.07,366.02" fill="#ff0000"/><polygon points="667.35,371.92 664.25,365.32 670.45,365.32" fill="#ff0000"/><polygon points="656.88,373.43 653.78,366.83 659.98,366.83" fill="#ff0000"/><polygon points="646.41,375.65 643.31,369.05 649.51,369.05" fill="#ff0000"/><polygon points="635.94,375.09 632.84,368.49 639.04,368.49" fill="#ff0000"/></g>
<polyline points="624.42,380.7 625.47,381.13 635.94,379.29 646.41,378.36 656.88,377.04 667.35,374.96 679.39,372.71 690.17,373.99 700.23,371.21 710.28,369.45 720.33,368.14 730.17,366.79 740.64,365.62 751.11,363.56 761.16,360.81 772.05,358.62 782.52,357.17 792.99,355.58 803.46,352.95 813.93,351.17 813.93,344.31 803.46,345.75 792.99,346.93 782.52,348.63 772.05,349.24 768.91,350.27 758.23,351.56 747.45,353.33 737.08,355.81 726.71,356.78 715.51,358.8 706.09,360.47 695.83,362.71 685.67,364.53 682.53,364.38 679.39,364.12 676.25,366.36 673.11,366.09 669.97,367.1 667.35,366.85 656.88,368.62 646.41,369.78 635.94,373.36 625.47,373.32 624.42,373.09" fill="none" stroke="#009900" stroke-width="2" stroke-linejoin="round" stroke-linecap="butt"/>
<g><polygon points="635.94,374.89 632.84,381.49 639.04,381.49" fill="#009900"/><polygon points="646.41,373.96 643.31,380.56 649.51,380.56" fill="#009900"/><polygon points="656.88,372.64 653.78,379.24 659.98,379.24" fill="#009900"/><polygon points="667.35,370.56 664.25,377.16 670.45,377.16" fill="#009900"/><polygon points="679.39,368.31 676.29,374.91 682.49,374.91" fill="#009900"/><polygon points="690.17,369.59 687.07,376.19 693.27,376.19" fill="#009900"/><polygon points="700.23,366.81 697.13,373.41 703.33,373.41" fill="#009900"/><polygon points="710.28,365.05 707.18,371.65 713.38,371.65" fill="#009900"/><polygon points="720.33,363.74 717.23,370.34 723.43,370.34" fill="#009900"/><polygon points="730.17,362.39 727.07,368.99 733.27,368.99" fill="#009900"/><polygon points="740.64,361.22 737.54,367.82 743.74,367.82" fill="#009900"/><polygon points="751.11,359.16 748.01,365.76 754.21,365.76" fill="#009900"/><polygon points="761.16,356.41 758.06,363.01 764.26,363.01" fill="#009900"/><polygon points="772.05,354.22 768.95,360.82 775.15,360.82" fill="#009900"/><polygon points="782.52,352.77 779.42,359.37 785.62,359.37" fill="#009900"/><polygon points="792.99,351.18 789.89,357.78 796.09,357.78" fill="#009900"/><polygon points="803.46,348.55 800.36,355.15 806.56,355.15" fill="#009900"/><polygon points="813.93,346.77 810.83,353.37 817.03,353.37" fill="#009900"/><polygon points="813.93,339.91 810.83,346.51 817.03,346.51" fill="#009900"/><polygon points="803.46,341.35 800.36,347.95 806.56,347.95" fill="#009900"/><polygon points="792.99,342.53 789.89,349.13 796.09,349.13" fill="#009900"/><polygon points="782.52,344.23 779.42,350.83 785.62,350.83" fill="#009900"/><polygon points="772.05,344.84 768.95,351.44 775.15,351.44" fill="#009900"/><polygon points="768.91,345.87 765.81,352.47 772.01,352.47" fill="#009900"/><polygon points="758.23,347.16 755.13,353.76 761.33,353.76" fill="#009900"/><polygon points="747.45,348.93 744.35,355.53 750.55,355.53" fill="#009900"/><polygon points="737.08,351.41 733.98,358.01 740.18,358.01" fill="#009900"/><polygon points="726.71,352.38 723.61,358.98 729.81,358.98" fill="#009900"/><polygon points="715.51,354.4 712.41,361 718.61,361" fill="#009900"/><polygon points="706.09,356.07 702.99,362.67 709.19,362.67" fill="#009900"/><polygon points="695.83,358.31 692.73,364.91 698.93,364.91" fill="#009900"/><polygon points="685.67,360.13 682.57,366.73 688.77,366.73" fill="#009900"/><polygon points="682.53,359.98 679.43,366.58 685.63,366.58" fill="#009900"/><polygon points="679.39,359.72 676.29,366.32 682.49,366.32" fill="#009900"/><polygon points="676.25,361.96 673.15,368.56 679.35,368.56" fill="#009900"/><polygon points="673.11,361.69 670.01,368.29 676.21,368.29" fill="#009900"/><polygon points="669.97,362.7 666.87,369.3 673.07,369.3" fill="#009900"/><polygon points="667.35,362.45 664.25,369.05 670.45,369.05" fill="#009900"/><polygon points="656.88,364.22 653.78,370.82 659.98,370.82" fill="#009900"/><polygon points="646.41,365.38 643.31,371.98 649.51,371.98" fill="#009900"/><polygon points="635.94,368.96 632.84,375.56 639.04,375.56" fill="#009900"/></g>
<polyline points="624.42,395.77 625.47,395.5 635.94,391.47 646.41,392.89 656.88,390.99 667.35,386.4 679.39,382.55 690.17,379.54 700.23,376.8 710.28,373.64 720.33,369.41 730.17,365.77 740.64,361.37 751.11,356.86 761.16,353.08 772.05,349.28 782.52,345.84 792.99,342.64 803.46,339.8 813.93,337.34 813.93,331.13 803.46,332.22 792.99,334.11 782.52,336.48 772.05,339.09 768.91,339.98 758.23,343.3 747.45,346.52 737.08,349.24 726.71,352.43 715.51,356.98 706.09,360.09 695.83,363.76 685.67,368.23 682.53,369.3 679.39,370.27 676.25,371.2 673.11,372.12 669.97,373.08 667.35,373.93 656.88,377.72 646.41,381.51 635.94,384.36 625.47,388.62 624.42,388.99" fill="none" stroke="#0000ff" stroke-width="2" stroke-linejoin="round" stroke-linecap="butt"/>
<g><circle cx="635.94" cy="391.47" r="3" fill="#0000ff"/><circle cx="646.41" cy="392.89" r="3" fill="#0000ff"/><circle cx="656.88" cy="390.99" r="3" fill="#0000ff"/><circle cx="667.35" cy="386.4" r="3" fill="#0000ff"/><circle cx="679.39" cy="382.55" r="3" fill="#0000ff"/><circle cx="690.17" cy="379.54" r="3" fill="#0000ff"/><circle cx="700.23" cy="376.8" r="3" fill="#0000ff"/><circle cx="710.28" cy="373.64" r="3" fill="#0000ff"/><circle cx="720.33" cy="369.41" r="3" fill="#0000ff"/><circle cx="730.17" cy="365.77" r="3" fill="#0000ff"/><circle cx="740.64" cy="361.37" r="3" fill="#0000ff"/><circle cx="751.11" cy="356.86" r="3" fill="#0000ff"/><circle cx="761.16" cy="353.08" r="3" fill="#0000ff"/><circle cx="772.05" cy="349.28" r="3" fill="#0000ff"/><circle cx="782.52" cy="345.84" r="3" fill="#0000ff"/><circle cx="792.99" cy="342.64" r="3" fill="#0000ff"/><circle cx="803.46" cy="339.8" r="3" fill="#0000ff"/><circle cx="813.93" cy="337.34" r="3" fill="#0000ff"/><circle cx="813.93" cy="331.13" r="3" fill="#0000ff"/><circle cx="803.46" cy="332.22" r="3" fill="#0000ff"/><circle cx="792.99" cy="334.11" r="3" fill="#0000ff"/><circle cx="782.52" cy="336.48" r="3" fill="#0000ff"/><circle cx="772.05" cy="339.09" r="3" fill="#0000ff"/><circle cx="768.91" cy="339.98" r="3" fill="#0000ff"/><circle cx="758.23" cy="343.3" r="3" fill="#0000ff"/><circle cx="747.45" cy="346.52" r="3" fill="#0000ff"/><circle cx="737.08" cy="349.24" r="3" fill="#0000ff"/><circle cx="726.71" cy="352.43" r="3" fill="#0000ff"/><circle cx="715.51" cy="356.98" r="3" fill="#0000ff"/><circle cx="706.09" cy="360.09" r="3" fill="#0000ff"/><circle cx="695.83" cy="363.76" r="3" fill="#0000ff"/><circle cx="685.67" cy="368.23" r="3" fill="#0000ff"/><circle cx="682.53" cy="369.3" r="3" fill="#0000ff"/><circle cx="679.39" cy="370.27" r="3" fill="#0000ff"/><circle cx="676.25" cy="371.2" r="3" fill="#0000ff"/><circle cx="673.11" cy="372.12" r="3" fill="#0000ff"/><circle cx="669.97" cy="373.08" r="3" fill="#0000ff"/><circle cx="667.35" cy="373.93" r="3" fill="#0000ff"/><circle cx="656.88" cy="377.72" r="3" fill="#0000ff"/><circle cx="646.41" cy="381.51" r="3" fill="#0000ff"/><circle cx="635.94" cy="384.36" r="3" fill="#0000ff"/></g>
<polyline points="624.42,441.2 625.47,440.69 635.94,431.85 646.41,422.19 656.88,417.47 667.35,417.18 669.97,415.76 672.59,413.81 675.2,412.7 677.82,413.2 680.44,410.5 683.06,407.61 685.67,404.53 688.29,404.75 690.91,407.61 693.53,408.35 696.14,402.23 698.76,399.57 701.38,395.72 704,396.61 706.61,392.23 709.23,385.11 711.85,382.29 714.47,380.72 717.08,378.26 719.7,377.55 722.32,372.22 724.94,363.64 727.55,360.41 730.17,358.5 732.79,355.4 735.41,350.79 738.02,340.94 740.64,337.57 743.26,333.95 745.88,334.32 748.49,334.59 751.11,332.23 753.73,331.25 756.35,332.55 758.96,328.82 761.58,324.6 764.2,321.21 766.82,320.71 769.43,317.56 772.05,316.92 782.52,306.01 792.99,303.21 803.46,295.13 813.93,290.44 813.93,286.78 803.46,293.68 792.99,299.44 782.52,302.6 772.05,308.49 769.43,307.17 766.82,307.77 764.2,311.62 761.58,310.86 758.96,313.73 756.35,312.61 753.73,314.53 751.11,318.14 748.49,318.32 745.88,321.24 743.26,323.51 740.64,326.35 738.02,329.05 735.41,332.74 732.79,335.49 730.17,339.38 727.55,339.86 724.94,341.43 722.32,345.15 719.7,348.6 717.08,350.25 714.47,354.57 711.85,359.86 709.23,365.02 706.61,368.17 704,371.76 701.38,379.45 698.76,379.62 696.14,383.13 693.53,386.05 690.91,386.51 688.29,390.58 685.67,390.6 683.06,391.19 680.44,394.29 677.82,397.34 675.2,400.34 672.59,401.76 669.97,404.46 667.35,402.37 656.88,412.14 646.41,419.72 635.94,425.71 625.47,433.49 624.42,432.98" fill="none" stroke="#7000e6" stroke-width="2" stroke-linejoin="round" stroke-linecap="butt"/>
<g><rect x="633.04" y="428.95" width="5.8" height="5.8" fill="#7000e6"/><rect x="643.51" y="419.29" width="5.8" height="5.8" fill="#7000e6"/><rect x="653.98" y="414.57" width="5.8" height="5.8" fill="#7000e6"/><rect x="664.45" y="414.28" width="5.8" height="5.8" fill="#7000e6"/><rect x="667.07" y="412.86" width="5.8" height="5.8" fill="#7000e6"/><rect x="669.69" y="410.91" width="5.8" height="5.8" fill="#7000e6"/><rect x="672.3" y="409.8" width="5.8" height="5.8" fill="#7000e6"/><rect x="674.92" y="410.3" width="5.8" height="5.8" fill="#7000e6"/><rect x="677.54" y="407.6" width="5.8" height="5.8" fill="#7000e6"/><rect x="680.16" y="404.71" width="5.8" height="5.8" fill="#7000e6"/><rect x="682.77" y="401.63" width="5.8" height="5.8" fill="#7000e6"/><rect x="685.39" y="401.85" width="5.8" height="5.8" fill="#7000e6"/><rect x="688.01" y="404.71" width="5.8" height="5.8" fill="#7000e6"/><rect x="690.63" y="405.45" width="5.8" height="5.8" fill="#7000e6"/><rect x="693.24" y="399.33" width="5.8" height="5.8" fill="#7000e6"/><rect x="695.86" y="396.67" width="5.8" height="5.8" fill="#7000e6"/><rect x="698.48" y="392.82" width="5.8" height="5.8" fill="#7000e6"/><rect x="701.1" y="393.71" width="5.8" height="5.8" fill="#7000e6"/><rect x="703.71" y="389.33" width="5.8" height="5.8" fill="#7000e6"/><rect x="706.33" y="382.21" width="5.8" height="5.8" fill="#7000e6"/><rect x="708.95" y="379.39" width="5.8" height="5.8" fill="#7000e6"/><rect x="711.57" y="377.82" width="5.8" height="5.8" fill="#7000e6"/><rect x="714.18" y="375.36" width="5.8" height="5.8" fill="#7000e6"/><rect x="716.8" y="374.65" width="5.8" height="5.8" fill="#7000e6"/><rect x="719.42" y="369.32" width="5.8" height="5.8" fill="#7000e6"/><rect x="722.04" y="360.74" width="5.8" height="5.8" fill="#7000e6"/><rect x="724.65" y="357.51" width="5.8" height="5.8" fill="#7000e6"/><rect x="727.27" y="355.6" width="5.8" height="5.8" fill="#7000e6"/><rect x="729.89" y="352.5" width="5.8" height="5.8" fill="#7000e6"/><rect x="732.51" y="347.89" width="5.8" height="5.8" fill="#7000e6"/><rect x="735.12" y="338.04" width="5.8" height="5.8" fill="#7000e6"/><rect x="737.74" y="334.67" width="5.8" height="5.8" fill="#7000e6"/><rect x="740.36" y="331.05" width="5.8" height="5.8" fill="#7000e6"/><rect x="742.98" y="331.42" width="5.8" height="5.8" fill="#7000e6"/><rect x="745.59" y="331.69" width="5.8" height="5.8" fill="#7000e6"/><rect x="748.21" y="329.33" width="5.8" height="5.8" fill="#7000e6"/><rect x="750.83" y="328.35" width="5.8" height="5.8" fill="#7000e6"/><rect x="753.45" y="329.65" width="5.8" height="5.8" fill="#7000e6"/><rect x="756.06" y="325.92" width="5.8" height="5.8" fill="#7000e6"/><rect x="758.68" y="321.7" width="5.8" height="5.8" fill="#7000e6"/><rect x="761.3" y="318.31" width="5.8" height="5.8" fill="#7000e6"/><rect x="763.92" y="317.81" width="5.8" height="5.8" fill="#7000e6"/><rect x="766.53" y="314.66" width="5.8" height="5.8" fill="#7000e6"/><rect x="769.15" y="314.02" width="5.8" height="5.8" fill="#7000e6"/><rect x="779.62" y="303.11" width="5.8" height="5.8" fill="#7000e6"/><rect x="790.09" y="300.31" width="5.8" height="5.8" fill="#7000e6"/><rect x="800.56" y="292.23" width="5.8" height="5.8" fill="#7000e6"/><rect x="811.03" y="287.54" width="5.8" height="5.8" fill="#7000e6"/><rect x="811.03" y="283.88" width="5.8" height="5.8" fill="#7000e6"/><rect x="800.56" y="290.78" width="5.8" height="5.8" fill="#7000e6"/><rect x="790.09" y="296.54" width="5.8" height="5.8" fill="#7000e6"/><rect x="779.62" y="299.7" width="5.8" height="5.8" fill="#7000e6"/><rect x="769.15" y="305.59" width="5.8" height="5.8" fill="#7000e6"/><rect x="766.53" y="304.27" width="5.8" height="5.8" fill="#7000e6"/><rect x="763.92" y="304.87" width="5.8" height="5.8" fill="#7000e6"/><rect x="761.3" y="308.72" width="5.8" height="5.8" fill="#7000e6"/><rect x="758.68" y="307.96" width="5.8" height="5.8" fill="#7000e6"/><rect x="756.06" y="310.83" width="5.8" height="5.8" fill="#7000e6"/><rect x="753.45" y="309.71" width="5.8" height="5.8" fill="#7000e6"/><rect x="750.83" y="311.63" width="5.8" height="5.8" fill="#7000e6"/><rect x="748.21" y="315.24" width="5.8" height="5.8" fill="#7000e6"/><rect x="745.59" y="315.42" width="5.8" height="5.8" fill="#7000e6"/><rect x="742.98" y="318.34" width="5.8" height="5.8" fill="#7000e6"/><rect x="740.36" y="320.61" width="5.8" height="5.8" fill="#7000e6"/><rect x="737.74" y="323.45" width="5.8" height="5.8" fill="#7000e6"/><rect x="735.12" y="326.15" width="5.8" height="5.8" fill="#7000e6"/><rect x="732.51" y="329.84" width="5.8" height="5.8" fill="#7000e6"/><rect x="729.89" y="332.59" width="5.8" height="5.8" fill="#7000e6"/><rect x="727.27" y="336.48" width="5.8" height="5.8" fill="#7000e6"/><rect x="724.65" y="336.96" width="5.8" height="5.8" fill="#7000e6"/><rect x="722.04" y="338.53" width="5.8" height="5.8" fill="#7000e6"/><rect x="719.42" y="342.25" width="5.8" height="5.8" fill="#7000e6"/><rect x="716.8" y="345.7" width="5.8" height="5.8" fill="#7000e6"/><rect x="714.18" y="347.35" width="5.8" height="5.8" fill="#7000e6"/><rect x="711.57" y="351.67" width="5.8" height="5.8" fill="#7000e6"/><rect x="708.95" y="356.96" width="5.8" height="5.8" fill="#7000e6"/><rect x="706.33" y="362.12" width="5.8" height="5.8" fill="#7000e6"/><rect x="703.71" y="365.27" width="5.8" height="5.8" fill="#7000e6"/><rect x="701.1" y="368.86" width="5.8" height="5.8" fill="#7000e6"/><rect x="698.48" y="376.55" width="5.8" height="5.8" fill="#7000e6"/><rect x="695.86" y="376.72" width="5.8" height="5.8" fill="#7000e6"/><rect x="693.24" y="380.23" width="5.8" height="5.8" fill="#7000e6"/><rect x="690.63" y="383.15" width="5.8" height="5.8" fill="#7000e6"/><rect x="688.01" y="383.61" width="5.8" height="5.8" fill="#7000e6"/><rect x="685.39" y="387.68" width="5.8" height="5.8" fill="#7000e6"/><rect x="682.77" y="387.7" width="5.8" height="5.8" fill="#7000e6"/><rect x="680.16" y="388.29" width="5.8" height="5.8" fill="#7000e6"/><rect x="677.54" y="391.39" width="5.8" height="5.8" fill="#7000e6"/><rect x="674.92" y="394.44" width="5.8" height="5.8" fill="#7000e6"/><rect x="672.3" y="397.44" width="5.8" height="5.8" fill="#7000e6"/><rect x="669.69" y="398.86" width="5.8" height="5.8" fill="#7000e6"/><rect x="667.07" y="401.56" width="5.8" height="5.8" fill="#7000e6"/><rect x="664.45" y="399.47" width="5.8" height="5.8" fill="#7000e6"/><rect x="653.98" y="409.24" width="5.8" height="5.8" fill="#7000e6"/><rect x="643.51" y="416.82" width="5.8" height="5.8" fill="#7000e6"/><rect x="633.04" y="422.81" width="5.8" height="5.8" fill="#7000e6"/></g>
<text x="562.8" y="275.7" font-size="21.5" text-anchor="start" font-weight="bold">f</text>
<text transform="translate(597.4,361.93) rotate(-90)" font-size="15.7" text-anchor="middle"><tspan font-style="italic">M</tspan> (x10<tspan font-size="10.5" dy="-9.2">-7</tspan><tspan dy="9.2" dx="1"> emu/mm</tspan><tspan font-size="10.5" dy="-9.2">2</tspan><tspan dy="9.2">)</tspan></text>
<text x="719.77" y="491.55" font-size="15.7" text-anchor="middle"><tspan font-style="italic">H</tspan><tspan dx="-1.2"> (Oe)</tspan></text>
<text x="632" y="284" font-size="13.75" text-anchor="start">Bi/Mn = 23.6</text>
<text x="632" y="299" font-size="13.75" text-anchor="start"><tspan font-style="italic">H</tspan> || <tspan dx="-0.9">0001</tspan></text>
<line x1="742" y1="398.9" x2="767.5" y2="398.9" stroke="#7000e6" stroke-width="2" stroke-linecap="round"/>
<rect x="751.75" y="396" width="5.8" height="5.8" fill="#7000e6"/>
<text x="805.6" y="403.7" font-size="13.75" text-anchor="end">1.8 K</text>
<line x1="742" y1="414.7" x2="767.5" y2="414.7" stroke="#0000ff" stroke-width="2" stroke-linecap="round"/>
<circle cx="754.65" cy="414.7" r="3" fill="#0000ff"/>
<text x="805.6" y="419.5" font-size="13.75" text-anchor="end">5.0 K</text>
<line x1="742" y1="430.5" x2="767.5" y2="430.5" stroke="#009900" stroke-width="2" stroke-linecap="round"/>
<polygon points="754.65,426.1 751.55,432.7 757.75,432.7" fill="#009900"/>
<text x="805.6" y="435.3" font-size="13.75" text-anchor="end">10 K</text>
<line x1="742" y1="446.3" x2="767.5" y2="446.3" stroke="#ff0000" stroke-width="2" stroke-linecap="round"/>
<polygon points="754.65,450.7 751.55,444.1 757.75,444.1" fill="#ff0000"/>
<text x="805.6" y="451.1" font-size="13.75" text-anchor="end">15 K</text>
</svg>
</body></html>
